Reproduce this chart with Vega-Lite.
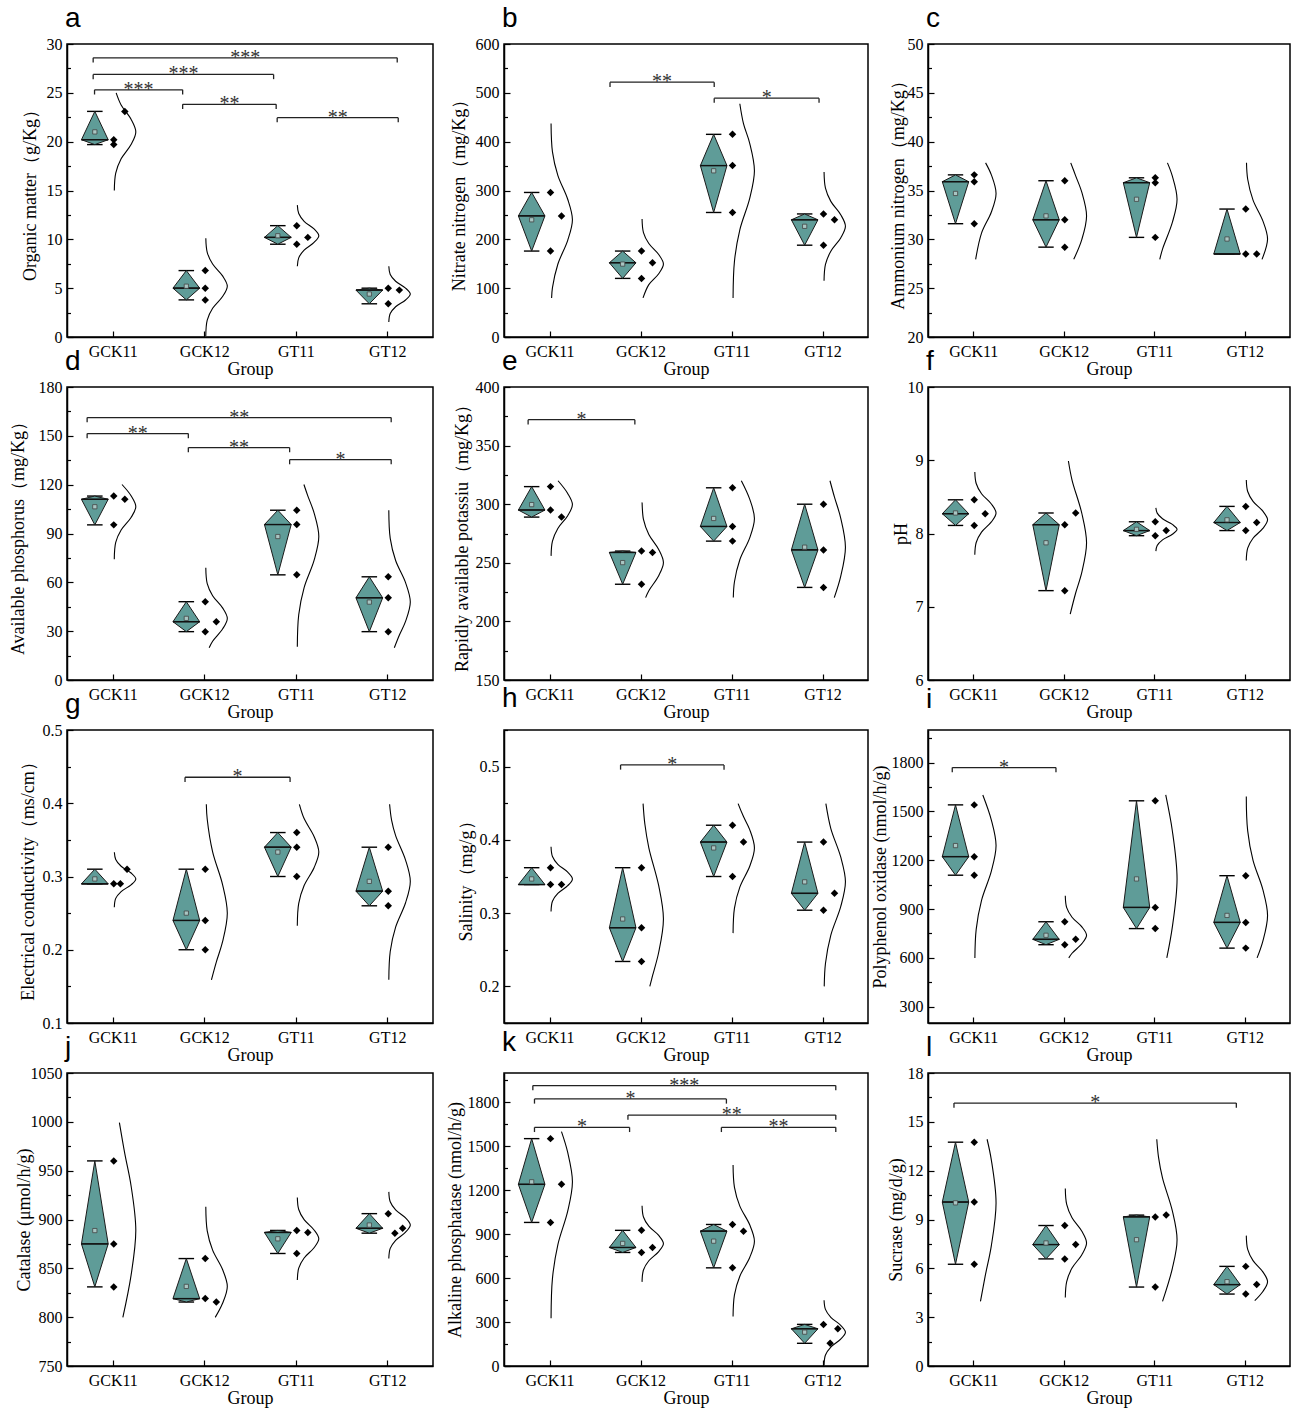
{
  "$schema": "https://vega.github.io/schema/vega-lite/v6.json",
  "background": "white",
  "padding": {"left": 8, "top": 4, "right": 0, "bottom": 0},
  "config": {
    "view": {"stroke": "black", "strokeWidth": 1.5},
    "font": "Liberation Serif",
    "axis": {"grid": false, "domainColor": "black", "domainWidth": 1.5, "tickColor": "black", "tickWidth": 1.2, "labelFont": "Liberation Serif", "labelFontSize": 16, "labelColor": "black", "titleFont": "Liberation Serif", "titleFontSize": 18, "titleFontWeight": "normal", "titleColor": "black"},
    "axisY": {"labelPadding": 11, "titleBaseline": "middle"},
    "title": {"font": "Liberation Sans", "fontSize": 28, "fontWeight": "normal", "anchor": "start", "align": "right", "frame": "group", "baseline": "alphabetic", "offset": 3, "color": "black", "dx": -2}
  },
  "datasets": {
    "pts": [
      {"p":"a","g":1,"y":23.1,"j":1},{"p":"a","g":1,"y":20.2,"j":0},{"p":"a","g":1,"y":19.7,"j":0},
      {"p":"a","g":2,"y":6.8,"j":0},{"p":"a","g":2,"y":5.0,"j":0},{"p":"a","g":2,"y":3.8,"j":0},
      {"p":"a","g":3,"y":11.4,"j":0},{"p":"a","g":3,"y":10.2,"j":1},{"p":"a","g":3,"y":9.5,"j":0},
      {"p":"a","g":4,"y":5.0,"j":0},{"p":"a","g":4,"y":4.8,"j":1},{"p":"a","g":4,"y":3.4,"j":0},
      {"p":"b","g":1,"y":296,"j":0},{"p":"b","g":1,"y":248,"j":1},{"p":"b","g":1,"y":176,"j":0},
      {"p":"b","g":2,"y":176,"j":0},{"p":"b","g":2,"y":152,"j":1},{"p":"b","g":2,"y":120,"j":0},
      {"p":"b","g":3,"y":415,"j":0},{"p":"b","g":3,"y":351,"j":0},{"p":"b","g":3,"y":255,"j":0},
      {"p":"b","g":4,"y":252,"j":0},{"p":"b","g":4,"y":240,"j":1},{"p":"b","g":4,"y":188,"j":0},
      {"p":"c","g":1,"y":36.6,"j":0},{"p":"c","g":1,"y":35.9,"j":0},{"p":"c","g":1,"y":31.6,"j":0},
      {"p":"c","g":2,"y":36.0,"j":0},{"p":"c","g":2,"y":32.0,"j":0},{"p":"c","g":2,"y":29.2,"j":0},
      {"p":"c","g":3,"y":36.3,"j":0},{"p":"c","g":3,"y":35.8,"j":0},{"p":"c","g":3,"y":30.2,"j":0},
      {"p":"c","g":4,"y":33.1,"j":0},{"p":"c","g":4,"y":28.5,"j":0},{"p":"c","g":4,"y":28.5,"j":1},
      {"p":"d","g":1,"y":113,"j":0},{"p":"d","g":1,"y":111,"j":1},{"p":"d","g":1,"y":95.3,"j":0},
      {"p":"d","g":2,"y":48.1,"j":0},{"p":"d","g":2,"y":35.8,"j":1},{"p":"d","g":2,"y":29.7,"j":0},
      {"p":"d","g":3,"y":104.3,"j":0},{"p":"d","g":3,"y":95.5,"j":0},{"p":"d","g":3,"y":64.6,"j":0},
      {"p":"d","g":4,"y":63.4,"j":0},{"p":"d","g":4,"y":50.5,"j":0},{"p":"d","g":4,"y":29.7,"j":0},
      {"p":"e","g":1,"y":315,"j":0},{"p":"e","g":1,"y":295,"j":0},{"p":"e","g":1,"y":289,"j":1},
      {"p":"e","g":2,"y":260,"j":0},{"p":"e","g":2,"y":258.8,"j":1},{"p":"e","g":2,"y":231.7,"j":0},
      {"p":"e","g":3,"y":314,"j":0},{"p":"e","g":3,"y":281,"j":0},{"p":"e","g":3,"y":268.5,"j":0},
      {"p":"e","g":4,"y":300,"j":0},{"p":"e","g":4,"y":261,"j":0},{"p":"e","g":4,"y":229,"j":0},
      {"p":"f","g":1,"y":8.46,"j":0},{"p":"f","g":1,"y":8.27,"j":1},{"p":"f","g":1,"y":8.11,"j":0},
      {"p":"f","g":2,"y":8.28,"j":1},{"p":"f","g":2,"y":8.12,"j":0},{"p":"f","g":2,"y":7.22,"j":0},
      {"p":"f","g":3,"y":8.16,"j":0},{"p":"f","g":3,"y":8.04,"j":1},{"p":"f","g":3,"y":7.97,"j":0},
      {"p":"f","g":4,"y":8.37,"j":0},{"p":"f","g":4,"y":8.15,"j":1},{"p":"f","g":4,"y":8.04,"j":0},
      {"p":"g","g":1,"y":0.31,"j":1.2},{"p":"g","g":1,"y":0.29,"j":0},{"p":"g","g":1,"y":0.29,"j":0.6},
      {"p":"g","g":2,"y":0.31,"j":0},{"p":"g","g":2,"y":0.24,"j":0},{"p":"g","g":2,"y":0.20,"j":0},
      {"p":"g","g":3,"y":0.36,"j":0},{"p":"g","g":3,"y":0.34,"j":0},{"p":"g","g":3,"y":0.30,"j":0},
      {"p":"g","g":4,"y":0.34,"j":0},{"p":"g","g":4,"y":0.28,"j":0},{"p":"g","g":4,"y":0.26,"j":0},
      {"p":"h","g":1,"y":0.362,"j":0},{"p":"h","g":1,"y":0.339,"j":0},{"p":"h","g":1,"y":0.339,"j":1},
      {"p":"h","g":2,"y":0.362,"j":0},{"p":"h","g":2,"y":0.28,"j":0},{"p":"h","g":2,"y":0.234,"j":0},
      {"p":"h","g":3,"y":0.42,"j":0},{"p":"h","g":3,"y":0.397,"j":1},{"p":"h","g":3,"y":0.35,"j":0},
      {"p":"h","g":4,"y":0.397,"j":0},{"p":"h","g":4,"y":0.327,"j":1},{"p":"h","g":4,"y":0.304,"j":0},
      {"p":"i","g":1,"y":1540,"j":0},{"p":"i","g":1,"y":1222,"j":0},{"p":"i","g":1,"y":1108,"j":0},
      {"p":"i","g":2,"y":822,"j":0},{"p":"i","g":2,"y":714,"j":1},{"p":"i","g":2,"y":681,"j":0},
      {"p":"i","g":3,"y":1565,"j":0},{"p":"i","g":3,"y":910,"j":0},{"p":"i","g":3,"y":780,"j":0},
      {"p":"i","g":4,"y":1105,"j":0},{"p":"i","g":4,"y":818,"j":0},{"p":"i","g":4,"y":660,"j":0},
      {"p":"j","g":1,"y":960,"j":0},{"p":"j","g":1,"y":875,"j":0},{"p":"j","g":1,"y":831,"j":0},
      {"p":"j","g":2,"y":860,"j":0},{"p":"j","g":2,"y":819,"j":0},{"p":"j","g":2,"y":815.5,"j":1},
      {"p":"j","g":3,"y":888.8,"j":0},{"p":"j","g":3,"y":886.7,"j":1},{"p":"j","g":3,"y":865.2,"j":0},
      {"p":"j","g":4,"y":906,"j":0},{"p":"j","g":4,"y":891,"j":1.3},{"p":"j","g":4,"y":886,"j":0.6},
      {"p":"k","g":1,"y":1552,"j":0},{"p":"k","g":1,"y":1240,"j":1},{"p":"k","g":1,"y":980,"j":0},
      {"p":"k","g":2,"y":926,"j":0},{"p":"k","g":2,"y":809,"j":1},{"p":"k","g":2,"y":775,"j":0},
      {"p":"k","g":3,"y":966,"j":0},{"p":"k","g":3,"y":920.5,"j":1},{"p":"k","g":3,"y":670,"j":0},
      {"p":"k","g":4,"y":284,"j":0},{"p":"k","g":4,"y":254,"j":1.3},{"p":"k","g":4,"y":155,"j":0.6},
      {"p":"l","g":1,"y":13.75,"j":0},{"p":"l","g":1,"y":10.07,"j":0},{"p":"l","g":1,"y":6.25,"j":0},
      {"p":"l","g":2,"y":8.63,"j":0},{"p":"l","g":2,"y":7.46,"j":1},{"p":"l","g":2,"y":6.58,"j":0},
      {"p":"l","g":3,"y":9.16,"j":0},{"p":"l","g":3,"y":9.27,"j":1},{"p":"l","g":3,"y":4.85,"j":0},
      {"p":"l","g":4,"y":6.12,"j":0},{"p":"l","g":4,"y":5.0,"j":1},{"p":"l","g":4,"y":4.42,"j":0}
    ],
    "curve": [
      {"p":"a","g":1,"y":15,"d":0.005},{"p":"a","g":1,"y":16.77,"d":0.07},{"p":"a","g":1,"y":18.24,"d":0.32},{"p":"a","g":1,"y":19.71,"d":0.78},{"p":"a","g":1,"y":21.0,"d":1},{"p":"a","g":1,"y":22.29,"d":0.78},{"p":"a","g":1,"y":23.76,"d":0.32},{"p":"a","g":1,"y":25,"d":0.09},
      {"p":"a","g":2,"y":0.1,"d":0.003},{"p":"a","g":2,"y":1.73,"d":0.07},{"p":"a","g":2,"y":2.94,"d":0.32},{"p":"a","g":2,"y":4.14,"d":0.78},{"p":"a","g":2,"y":5.2,"d":1},{"p":"a","g":2,"y":6.26,"d":0.78},{"p":"a","g":2,"y":7.47,"d":0.32},{"p":"a","g":2,"y":8.67,"d":0.07},{"p":"a","g":2,"y":10.1,"d":0.005},
      {"p":"a","g":3,"y":7.24,"d":0.006},{"p":"a","g":3,"y":8.1,"d":0.07},{"p":"a","g":3,"y":8.89,"d":0.32},{"p":"a","g":3,"y":9.68,"d":0.78},{"p":"a","g":3,"y":10.37,"d":1},{"p":"a","g":3,"y":11.06,"d":0.78},{"p":"a","g":3,"y":11.85,"d":0.32},{"p":"a","g":3,"y":12.64,"d":0.07},{"p":"a","g":3,"y":13.5,"d":0.006},
      {"p":"a","g":4,"y":1.53,"d":0.004},{"p":"a","g":4,"y":2.4,"d":0.07},{"p":"a","g":4,"y":3.1,"d":0.32},{"p":"a","g":4,"y":3.79,"d":0.78},{"p":"a","g":4,"y":4.4,"d":1},{"p":"a","g":4,"y":5.01,"d":0.78},{"p":"a","g":4,"y":5.71,"d":0.32},{"p":"a","g":4,"y":6.4,"d":0.07},{"p":"a","g":4,"y":7.24,"d":0.005},
      {"p":"b","g":1,"y":80,"d":0.03},{"p":"b","g":1,"y":101,"d":0.07},{"p":"b","g":1,"y":149,"d":0.32},{"p":"b","g":1,"y":198,"d":0.78},{"p":"b","g":1,"y":240,"d":1},{"p":"b","g":1,"y":282,"d":0.78},{"p":"b","g":1,"y":331,"d":0.32},{"p":"b","g":1,"y":379,"d":0.07},{"p":"b","g":1,"y":437,"d":0.005},
      {"p":"b","g":2,"y":80,"d":0.05},{"p":"b","g":2,"y":107.2,"d":0.32},{"p":"b","g":2,"y":129.6,"d":0.78},{"p":"b","g":2,"y":149.3,"d":1},{"p":"b","g":2,"y":169,"d":0.78},{"p":"b","g":2,"y":191.5,"d":0.32},{"p":"b","g":2,"y":213.9,"d":0.07},{"p":"b","g":2,"y":241.5,"d":0.005},
      {"p":"b","g":3,"y":80,"d":0.005},{"p":"b","g":3,"y":155.2,"d":0.07},{"p":"b","g":3,"y":219.6,"d":0.32},{"p":"b","g":3,"y":284,"d":0.78},{"p":"b","g":3,"y":340.3,"d":1},{"p":"b","g":3,"y":396.7,"d":0.78},{"p":"b","g":3,"y":436.9,"d":0.49},{"p":"b","g":3,"y":477.6,"d":0.32},
      {"p":"b","g":4,"y":115,"d":0.004},{"p":"b","g":4,"y":148.5,"d":0.07},{"p":"b","g":4,"y":175.7,"d":0.32},{"p":"b","g":4,"y":202.9,"d":0.78},{"p":"b","g":4,"y":226.7,"d":1},{"p":"b","g":4,"y":250.5,"d":0.78},{"p":"b","g":4,"y":277.7,"d":0.32},{"p":"b","g":4,"y":304.9,"d":0.07},{"p":"b","g":4,"y":338,"d":0.005},
      {"p":"c","g":1,"y":27.95,"d":0.045},{"p":"c","g":1,"y":30.64,"d":0.32},{"p":"c","g":1,"y":32.8,"d":0.78},{"p":"c","g":1,"y":34.7,"d":1},{"p":"c","g":1,"y":36.6,"d":0.78},{"p":"c","g":1,"y":37.83,"d":0.51},
      {"p":"c","g":2,"y":27.95,"d":0.4},{"p":"c","g":2,"y":30.0,"d":0.78},{"p":"c","g":2,"y":32.4,"d":1},{"p":"c","g":2,"y":34.8,"d":0.78},{"p":"c","g":2,"y":36.5,"d":0.49},{"p":"c","g":2,"y":37.83,"d":0.26},
      {"p":"c","g":3,"y":27.95,"d":0.19},{"p":"c","g":3,"y":29.0,"d":0.32},{"p":"c","g":3,"y":31.73,"d":0.78},{"p":"c","g":3,"y":34.1,"d":1},{"p":"c","g":3,"y":36.47,"d":0.78},{"p":"c","g":3,"y":37.83,"d":0.55},
      {"p":"c","g":4,"y":27.95,"d":0.74},{"p":"c","g":4,"y":30.03,"d":1},{"p":"c","g":4,"y":31.89,"d":0.78},{"p":"c","g":4,"y":34.02,"d":0.32},{"p":"c","g":4,"y":36.15,"d":0.07},{"p":"c","g":4,"y":37.83,"d":0.014},
      {"p":"d","g":1,"y":74.2,"d":0.003},{"p":"d","g":1,"y":84.5,"d":0.07},{"p":"d","g":1,"y":92.1,"d":0.32},{"p":"d","g":1,"y":99.8,"d":0.78},{"p":"d","g":1,"y":106.5,"d":1},{"p":"d","g":1,"y":113.2,"d":0.78},{"p":"d","g":1,"y":120.1,"d":0.36},
      {"p":"d","g":2,"y":19.8,"d":0.16},{"p":"d","g":2,"y":23.8,"d":0.32},{"p":"d","g":2,"y":31.3,"d":0.78},{"p":"d","g":2,"y":37.8,"d":1},{"p":"d","g":2,"y":44.3,"d":0.78},{"p":"d","g":2,"y":51.8,"d":0.32},{"p":"d","g":2,"y":59.2,"d":0.07},{"p":"d","g":2,"y":68.9,"d":0.004},
      {"p":"d","g":3,"y":20.5,"d":0.005},{"p":"d","g":3,"y":40.1,"d":0.07},{"p":"d","g":3,"y":56.8,"d":0.32},{"p":"d","g":3,"y":73.5,"d":0.78},{"p":"d","g":3,"y":88.1,"d":1},{"p":"d","g":3,"y":102.7,"d":0.78},{"p":"d","g":3,"y":113.1,"d":0.49},{"p":"d","g":3,"y":120.1,"d":0.31},
      {"p":"d","g":4,"y":19.8,"d":0.26},{"p":"d","g":4,"y":27.5,"d":0.49},{"p":"d","g":4,"y":36.0,"d":0.78},{"p":"d","g":4,"y":47.9,"d":1},{"p":"d","g":4,"y":59.8,"d":0.78},{"p":"d","g":4,"y":73.4,"d":0.32},{"p":"d","g":4,"y":87.0,"d":0.07},{"p":"d","g":4,"y":104.3,"d":0.004},
      {"p":"e","g":1,"y":255.9,"d":0.006},{"p":"e","g":1,"y":268.4,"d":0.07},{"p":"e","g":1,"y":279.3,"d":0.32},{"p":"e","g":1,"y":290.2,"d":0.78},{"p":"e","g":1,"y":299.7,"d":1},{"p":"e","g":1,"y":309.2,"d":0.78},{"p":"e","g":1,"y":320,"d":0.33},
      {"p":"e","g":2,"y":220.3,"d":0.17},{"p":"e","g":2,"y":226.2,"d":0.32},{"p":"e","g":2,"y":239,"d":0.78},{"p":"e","g":2,"y":250.2,"d":1},{"p":"e","g":2,"y":261.4,"d":0.78},{"p":"e","g":2,"y":274.2,"d":0.32},{"p":"e","g":2,"y":287,"d":0.07},{"p":"e","g":2,"y":301.5,"d":0.006},
      {"p":"e","g":3,"y":220.3,"d":0.016},{"p":"e","g":3,"y":233.8,"d":0.07},{"p":"e","g":3,"y":252.6,"d":0.32},{"p":"e","g":3,"y":271.3,"d":0.78},{"p":"e","g":3,"y":287.8,"d":1},{"p":"e","g":3,"y":304.3,"d":0.78},{"p":"e","g":3,"y":320,"d":0.39},
      {"p":"e","g":4,"y":220.3,"d":0.48},{"p":"e","g":4,"y":238.4,"d":0.78},{"p":"e","g":4,"y":263.3,"d":1},{"p":"e","g":4,"y":288.2,"d":0.78},{"p":"e","g":4,"y":306,"d":0.49},{"p":"e","g":4,"y":320,"d":0.28},
      {"p":"f","g":1,"y":7.71,"d":0.005},{"p":"f","g":1,"y":7.877,"d":0.07},{"p":"f","g":1,"y":8.018,"d":0.32},{"p":"f","g":1,"y":8.158,"d":0.78},{"p":"f","g":1,"y":8.28,"d":1},{"p":"f","g":1,"y":8.403,"d":0.78},{"p":"f","g":1,"y":8.543,"d":0.32},{"p":"f","g":1,"y":8.683,"d":0.07},{"p":"f","g":1,"y":8.84,"d":0.006},
      {"p":"f","g":2,"y":6.9,"d":0.235},{"p":"f","g":2,"y":7.188,"d":0.49},{"p":"f","g":2,"y":7.473,"d":0.78},{"p":"f","g":2,"y":7.873,"d":1},{"p":"f","g":2,"y":8.273,"d":0.78},{"p":"f","g":2,"y":8.73,"d":0.32},{"p":"f","g":2,"y":8.99,"d":0.15},
      {"p":"f","g":3,"y":7.76,"d":0.008},{"p":"f","g":3,"y":7.836,"d":0.07},{"p":"f","g":3,"y":7.913,"d":0.32},{"p":"f","g":3,"y":7.99,"d":0.78},{"p":"f","g":3,"y":8.057,"d":1},{"p":"f","g":3,"y":8.124,"d":0.78},{"p":"f","g":3,"y":8.201,"d":0.32},{"p":"f","g":3,"y":8.278,"d":0.07},{"p":"f","g":3,"y":8.35,"d":0.009},
      {"p":"f","g":4,"y":7.63,"d":0.004},{"p":"f","g":4,"y":7.801,"d":0.07},{"p":"f","g":4,"y":7.935,"d":0.32},{"p":"f","g":4,"y":8.069,"d":0.78},{"p":"f","g":4,"y":8.187,"d":1},{"p":"f","g":4,"y":8.305,"d":0.78},{"p":"f","g":4,"y":8.439,"d":0.32},{"p":"f","g":4,"y":8.573,"d":0.07},{"p":"f","g":4,"y":8.73,"d":0.005},
      {"p":"g","g":1,"y":0.258,"d":0.004},{"p":"g","g":1,"y":0.2701,"d":0.07},{"p":"g","g":1,"y":0.2794,"d":0.32},{"p":"g","g":1,"y":0.2886,"d":0.78},{"p":"g","g":1,"y":0.2967,"d":1},{"p":"g","g":1,"y":0.3048,"d":0.78},{"p":"g","g":1,"y":0.314,"d":0.32},{"p":"g","g":1,"y":0.3233,"d":0.07},{"p":"g","g":1,"y":0.333,"d":0.007},
      {"p":"g","g":2,"y":0.159,"d":0.265},{"p":"g","g":2,"y":0.1832,"d":0.49},{"p":"g","g":2,"y":0.211,"d":0.78},{"p":"g","g":2,"y":0.25,"d":1},{"p":"g","g":2,"y":0.289,"d":0.78},{"p":"g","g":2,"y":0.3336,"d":0.32},{"p":"g","g":2,"y":0.3781,"d":0.07},{"p":"g","g":2,"y":0.3986,"d":0.028},
      {"p":"g","g":3,"y":0.2327,"d":0.004},{"p":"g","g":3,"y":0.2632,"d":0.07},{"p":"g","g":3,"y":0.2876,"d":0.32},{"p":"g","g":3,"y":0.312,"d":0.78},{"p":"g","g":3,"y":0.3333,"d":1},{"p":"g","g":3,"y":0.3547,"d":0.78},{"p":"g","g":3,"y":0.3791,"d":0.32},{"p":"g","g":3,"y":0.3986,"d":0.1},
      {"p":"g","g":4,"y":0.159,"d":0.005},{"p":"g","g":4,"y":0.1976,"d":0.07},{"p":"g","g":4,"y":0.2309,"d":0.32},{"p":"g","g":4,"y":0.2642,"d":0.78},{"p":"g","g":4,"y":0.2933,"d":1},{"p":"g","g":4,"y":0.3224,"d":0.78},{"p":"g","g":4,"y":0.3557,"d":0.32},{"p":"g","g":4,"y":0.3765,"d":0.135},{"p":"g","g":4,"y":0.3986,"d":0.041},
      {"p":"h","g":1,"y":0.3023,"d":0.004},{"p":"h","g":1,"y":0.3162,"d":0.07},{"p":"h","g":1,"y":0.3268,"d":0.32},{"p":"h","g":1,"y":0.3374,"d":0.78},{"p":"h","g":1,"y":0.3467,"d":1},{"p":"h","g":1,"y":0.356,"d":0.78},{"p":"h","g":1,"y":0.3666,"d":0.32},{"p":"h","g":1,"y":0.3772,"d":0.07},{"p":"h","g":1,"y":0.3905,"d":0.004},
      {"p":"h","g":2,"y":0.2,"d":0.365},{"p":"h","g":2,"y":0.2142,"d":0.49},{"p":"h","g":2,"y":0.2466,"d":0.78},{"p":"h","g":2,"y":0.292,"d":1},{"p":"h","g":2,"y":0.3374,"d":0.78},{"p":"h","g":2,"y":0.3892,"d":0.32},{"p":"h","g":2,"y":0.4216,"d":0.135},{"p":"h","g":2,"y":0.4495,"d":0.052},
      {"p":"h","g":3,"y":0.2727,"d":0.005},{"p":"h","g":3,"y":0.3069,"d":0.07},{"p":"h","g":3,"y":0.3355,"d":0.32},{"p":"h","g":3,"y":0.364,"d":0.78},{"p":"h","g":3,"y":0.389,"d":1},{"p":"h","g":3,"y":0.414,"d":0.78},{"p":"h","g":3,"y":0.4318,"d":0.49},{"p":"h","g":3,"y":0.4495,"d":0.24},
      {"p":"h","g":4,"y":0.2,"d":0.013},{"p":"h","g":4,"y":0.2312,"d":0.07},{"p":"h","g":4,"y":0.27,"d":0.32},{"p":"h","g":4,"y":0.3088,"d":0.78},{"p":"h","g":4,"y":0.3427,"d":1},{"p":"h","g":4,"y":0.3767,"d":0.78},{"p":"h","g":4,"y":0.4155,"d":0.32},{"p":"h","g":4,"y":0.4495,"d":0.089},
      {"p":"i","g":1,"y":600,"d":0.009},{"p":"i","g":1,"y":775,"d":0.07},{"p":"i","g":1,"y":954,"d":0.32},{"p":"i","g":1,"y":1133,"d":0.78},{"p":"i","g":1,"y":1290,"d":1},{"p":"i","g":1,"y":1447,"d":0.78},{"p":"i","g":1,"y":1601,"d":0.38},
      {"p":"i","g":2,"y":600,"d":0.168},{"p":"i","g":2,"y":628.5,"d":0.32},{"p":"i","g":2,"y":687.4,"d":0.78},{"p":"i","g":2,"y":739,"d":1},{"p":"i","g":2,"y":790.6,"d":0.78},{"p":"i","g":2,"y":849.6,"d":0.32},{"p":"i","g":2,"y":908.5,"d":0.07},{"p":"i","g":2,"y":982,"d":0.004},
      {"p":"i","g":3,"y":600,"d":0.52},{"p":"i","g":3,"y":790.5,"d":0.78},{"p":"i","g":3,"y":1085,"d":1},{"p":"i","g":3,"y":1379.5,"d":0.78},{"p":"i","g":3,"y":1601,"d":0.47},
      {"p":"i","g":4,"y":600,"d":0.51},{"p":"i","g":4,"y":703,"d":0.78},{"p":"i","g":4,"y":861,"d":1},{"p":"i","g":4,"y":1019,"d":0.78},{"p":"i","g":4,"y":1199,"d":0.32},{"p":"i","g":4,"y":1380,"d":0.07},{"p":"i","g":4,"y":1591,"d":0.005},
      {"p":"j","g":1,"y":799.8,"d":0.4},{"p":"j","g":1,"y":842.8,"d":0.78},{"p":"j","g":1,"y":888.7,"d":1},{"p":"j","g":1,"y":934.6,"d":0.78},{"p":"j","g":1,"y":967.4,"d":0.49},{"p":"j","g":1,"y":999.2,"d":0.24},
      {"p":"j","g":2,"y":799.8,"d":0.44},{"p":"j","g":2,"y":814.2,"d":0.78},{"p":"j","g":2,"y":831.5,"d":1},{"p":"j","g":2,"y":848.8,"d":0.78},{"p":"j","g":2,"y":868.6,"d":0.32},{"p":"j","g":2,"y":888.3,"d":0.07},{"p":"j","g":2,"y":913,"d":0.004},
      {"p":"j","g":3,"y":838,"d":0.005},{"p":"j","g":3,"y":850.2,"d":0.07},{"p":"j","g":3,"y":860.6,"d":0.32},{"p":"j","g":3,"y":871.1,"d":0.78},{"p":"j","g":3,"y":880.2,"d":1},{"p":"j","g":3,"y":889.3,"d":0.78},{"p":"j","g":3,"y":899.8,"d":0.32},{"p":"j","g":3,"y":910.2,"d":0.07},{"p":"j","g":3,"y":922.5,"d":0.005},
      {"p":"j","g":4,"y":860.1,"d":0.004},{"p":"j","g":4,"y":870.4,"d":0.07},{"p":"j","g":4,"y":878.7,"d":0.32},{"p":"j","g":4,"y":887,"d":0.78},{"p":"j","g":4,"y":894.3,"d":1},{"p":"j","g":4,"y":901.6,"d":0.78},{"p":"j","g":4,"y":909.9,"d":0.32},{"p":"j","g":4,"y":918.2,"d":0.07},{"p":"j","g":4,"y":928.3,"d":0.005},
      {"p":"k","g":1,"y":325.8,"d":0.005},{"p":"k","g":1,"y":598.3,"d":0.07},{"p":"k","g":1,"y":827.4,"d":0.32},{"p":"k","g":1,"y":1056.5,"d":0.78},{"p":"k","g":1,"y":1257,"d":1},{"p":"k","g":1,"y":1457.5,"d":0.78},{"p":"k","g":1,"y":1599.5,"d":0.49},
      {"p":"k","g":2,"y":574.2,"d":0.004},{"p":"k","g":2,"y":655.5,"d":0.07},{"p":"k","g":2,"y":718.4,"d":0.32},{"p":"k","g":2,"y":781.3,"d":0.78},{"p":"k","g":2,"y":836.3,"d":1},{"p":"k","g":2,"y":891.3,"d":0.78},{"p":"k","g":2,"y":954.2,"d":0.32},{"p":"k","g":2,"y":1017.1,"d":0.07},{"p":"k","g":2,"y":1093.6,"d":0.005},
      {"p":"k","g":3,"y":337.2,"d":0.005},{"p":"k","g":3,"y":485.6,"d":0.07},{"p":"k","g":3,"y":613.1,"d":0.32},{"p":"k","g":3,"y":740.6,"d":0.78},{"p":"k","g":3,"y":852.2,"d":1},{"p":"k","g":3,"y":963.8,"d":0.78},{"p":"k","g":3,"y":1091.3,"d":0.32},{"p":"k","g":3,"y":1218.8,"d":0.07},{"p":"k","g":3,"y":1371.6,"d":0.005},
      {"p":"k","g":4,"y":4.6,"d":0.004},{"p":"k","g":4,"y":75.2,"d":0.07},{"p":"k","g":4,"y":129.3,"d":0.32},{"p":"k","g":4,"y":183.4,"d":0.78},{"p":"k","g":4,"y":230.7,"d":1},{"p":"k","g":4,"y":278,"d":0.78},{"p":"k","g":4,"y":332.1,"d":0.32},{"p":"k","g":4,"y":386.2,"d":0.07},{"p":"k","g":4,"y":448.8,"d":0.005},
      {"p":"l","g":1,"y":3.97,"d":0.27},{"p":"l","g":1,"y":5.52,"d":0.49},{"p":"l","g":1,"y":7.4,"d":0.78},{"p":"l","g":1,"y":10.02,"d":1},{"p":"l","g":1,"y":12.65,"d":0.78},{"p":"l","g":1,"y":13.93,"d":0.58},
      {"p":"l","g":2,"y":4.21,"d":0.005},{"p":"l","g":2,"y":5.19,"d":0.07},{"p":"l","g":2,"y":6.015,"d":0.32},{"p":"l","g":2,"y":6.84,"d":0.78},{"p":"l","g":2,"y":7.56,"d":1},{"p":"l","g":2,"y":8.28,"d":0.78},{"p":"l","g":2,"y":9.105,"d":0.32},{"p":"l","g":2,"y":9.93,"d":0.07},{"p":"l","g":2,"y":10.91,"d":0.005},
      {"p":"l","g":3,"y":3.97,"d":0.32},{"p":"l","g":3,"y":5.996,"d":0.78},{"p":"l","g":3,"y":7.76,"d":1},{"p":"l","g":3,"y":9.524,"d":0.78},{"p":"l","g":3,"y":11.54,"d":0.32},{"p":"l","g":3,"y":12.8,"d":0.135},{"p":"l","g":3,"y":13.93,"d":0.05},
      {"p":"l","g":4,"y":4.01,"d":0.4},{"p":"l","g":4,"y":4.575,"d":0.78},{"p":"l","g":4,"y":5.18,"d":1},{"p":"l","g":4,"y":5.785,"d":0.78},{"p":"l","g":4,"y":6.476,"d":0.32},{"p":"l","g":4,"y":7.167,"d":0.07},{"p":"l","g":4,"y":8.01,"d":0.005}
    ],
    "sig": [
      {"p":"a","x":0.786,"x2":4.109,"y":28.58,"lab":"***"},
      {"p":"a","x":0.786,"x2":2.758,"y":26.88,"lab":"***"},
      {"p":"a","x":0.801,"x2":1.764,"y":25.31,"lab":"***"},
      {"p":"a","x":1.764,"x2":2.786,"y":23.82,"lab":"**"},
      {"p":"a","x":2.797,"x2":4.12,"y":22.46,"lab":"**"},
      {"p":"b","x":1.665,"x2":2.81,"y":521.8,"lab":"**"},
      {"p":"b","x":2.81,"x2":3.962,"y":489.1,"lab":"*"},
      {"p":"d","x":0.72,"x2":4.043,"y":161.2,"lab":"**"},
      {"p":"d","x":0.72,"x2":1.826,"y":151.4,"lab":"**"},
      {"p":"d","x":1.826,"x2":2.933,"y":142.8,"lab":"**"},
      {"p":"d","x":2.933,"x2":4.043,"y":135.4,"lab":"*"},
      {"p":"e","x":0.765,"x2":1.938,"y":372.1,"lab":"*"},
      {"p":"g","x":1.79,"x2":2.938,"y":0.4355,"lab":"*"},
      {"p":"h","x":1.781,"x2":2.918,"y":0.5023,"lab":"*"},
      {"p":"i","x":0.768,"x2":1.914,"y":1769,"lab":"*"},
      {"p":"k","x":0.817,"x2":4.146,"y":1914,"lab":"***"},
      {"p":"k","x":0.835,"x2":2.944,"y":1823,"lab":"*"},
      {"p":"k","x":1.862,"x2":4.146,"y":1713,"lab":"**"},
      {"p":"k","x":0.835,"x2":1.88,"y":1629,"lab":"*"},
      {"p":"k","x":2.889,"x2":4.146,"y":1629,"lab":"**"},
      {"p":"l","x":0.787,"x2":3.907,"y":16.15,"lab":"*"}
    ]
  },
  "spacing": 11,
  "hconcat": [
    {
      "bounds": "flush",
      "spacing": 50,
      "vconcat": [
        {
          "width": 366, "height": 293,
          "title": {"text": "a"},
          "encoding": {
            "x": {"field": "x", "type": "quantitative", "scale": {"domain": [0.5, 4.5], "nice": false, "zero": false}, "axis": {"title": "Group", "values": [1, 2, 3, 4], "labelExpr": "['GCK11','GCK12','GT11','GT12'][datum.value-1]", "tickSize": -6, "labelPadding": 12, "titleY": 32, "titleBaseline": "middle"}},
            "y": {"field": "y", "type": "quantitative", "scale": {"domain": [0, 30], "nice": false, "zero": false}, "axis": {"title": "Organic matter（g/Kg）", "values": [0, 2.5, 5, 7.5, 10, 12.5, 15, 17.5, 20, 22.5, 25, 27.5, 30], "format": "d", "labelExpr": "abs(datum.value/5-round(datum.value/5))<0.001 ? datum.label : ''", "tickSize": {"condition": {"test": "abs(datum.value/5-round(datum.value/5))<0.001", "value": -6}, "value": -3.5}, "titleX": -37}}
          },
          "layer": [
            {"data": {"name": "curve"}, "transform": [{"filter": "datum.p==='a'"}, {"calculate": "datum.g+0.016+0.236*datum.d", "as": "x"}], "mark": {"type": "line", "color": "black", "strokeWidth": 1.1, "interpolate": "catmull-rom"}, "encoding": {"detail": {"field": "g", "type": "nominal"}, "order": {"field": "y", "type": "quantitative"}}},
            {"data": {"name": "pts"}, "transform": [{"filter": "datum.p==='a'"}, {"aggregate": [{"op": "min", "field": "y", "as": "lo"}, {"op": "max", "field": "y", "as": "hi"}], "groupby": ["g"]}, {"fold": ["lo", "hi"], "as": ["k", "y"]}, {"calculate": "datum.g-0.281", "as": "x"}, {"calculate": "datum.g-0.111", "as": "x2"}], "mark": {"type": "rule", "color": "black", "strokeWidth": 1.4}, "encoding": {"x2": {"field": "x2"}}},
            {"data": {"name": "pts"}, "transform": [{"filter": "datum.p==='a'"}, {"aggregate": [{"op": "median", "field": "y", "as": "md"}, {"op": "max", "field": "y", "as": "mx"}], "groupby": ["g"]}, {"fold": ["md", "mx"], "as": ["k", "y"]}, {"calculate": "datum.k==='md'?0.146:0", "as": "w"}, {"calculate": "datum.g-0.196-datum.w", "as": "x"}, {"calculate": "datum.g-0.196+datum.w", "as": "x2"}], "mark": {"type": "area", "orient": "horizontal", "fill": "#5f9c98", "stroke": "#1a1a1a", "strokeWidth": 1, "opacity": 1}, "encoding": {"x2": {"field": "x2"}, "detail": {"field": "g", "type": "nominal"}}},
            {"data": {"name": "pts"}, "transform": [{"filter": "datum.p==='a'"}, {"aggregate": [{"op": "min", "field": "y", "as": "mn"}, {"op": "median", "field": "y", "as": "md"}], "groupby": ["g"]}, {"fold": ["mn", "md"], "as": ["k", "y"]}, {"calculate": "datum.k==='md'?0.146:0", "as": "w"}, {"calculate": "datum.g-0.196-datum.w", "as": "x"}, {"calculate": "datum.g-0.196+datum.w", "as": "x2"}], "mark": {"type": "area", "orient": "horizontal", "fill": "#5f9c98", "stroke": "#1a1a1a", "strokeWidth": 1, "opacity": 1}, "encoding": {"x2": {"field": "x2"}, "detail": {"field": "g", "type": "nominal"}}},
            {"data": {"name": "pts"}, "transform": [{"filter": "datum.p==='a'"}, {"aggregate": [{"op": "median", "field": "y", "as": "med"}], "groupby": ["g"]}, {"fold": ["med"], "as": ["k", "y"]}, {"calculate": "datum.g-0.342", "as": "x"}, {"calculate": "datum.g-0.05", "as": "x2"}], "mark": {"type": "rule", "color": "#111", "strokeWidth": 1.4}, "encoding": {"x2": {"field": "x2"}}},
            {"data": {"name": "pts"}, "transform": [{"filter": "datum.p==='a'"}, {"aggregate": [{"op": "mean", "field": "y", "as": "mu"}], "groupby": ["g"]}, {"fold": ["mu"], "as": ["k", "y"]}, {"calculate": "datum.g-0.196", "as": "x"}], "mark": {"type": "point", "shape": "square", "size": 18, "filled": true, "fill": "#a9c6c3", "stroke": "#444", "strokeWidth": 0.8, "opacity": 1}},
            {"data": {"name": "pts"}, "transform": [{"filter": "datum.p==='a'"}, {"calculate": "datum.g+0.011+0.121*datum.j", "as": "x"}], "mark": {"type": "point", "shape": "diamond", "size": 56, "filled": true, "color": "black", "opacity": 1}},
            {"data": {"name": "sig"}, "transform": [{"filter": "datum.p==='a'"}], "mark": {"type": "rule", "color": "#222", "strokeWidth": 1.3}, "encoding": {"x2": {"field": "x2"}}},
            {"data": {"name": "sig"}, "transform": [{"filter": "datum.p==='a'"}, {"fold": ["x", "x2"], "as": ["k", "x"]}], "mark": {"type": "point", "shape": "M0,0V2", "size": 22, "filled": false, "stroke": "#222", "strokeWidth": 1.3, "opacity": 1}},
            {"data": {"name": "sig"}, "transform": [{"filter": "datum.p==='a'"}, {"calculate": "(datum.x+datum.x2)/2", "as": "xm"}, {"fold": ["xm"], "as": ["k", "x"]}], "mark": {"type": "text", "font": "Liberation Serif", "fontSize": 20, "fill": "#333", "baseline": "alphabetic", "dy": 6}, "encoding": {"text": {"field": "lab"}}}
          ]
        },
        {
          "width": 366, "height": 293,
          "title": {"text": "d"},
          "encoding": {
            "x": {"field": "x", "type": "quantitative", "scale": {"domain": [0.5, 4.5], "nice": false, "zero": false}, "axis": {"title": "Group", "values": [1, 2, 3, 4], "labelExpr": "['GCK11','GCK12','GT11','GT12'][datum.value-1]", "tickSize": -6, "labelPadding": 12, "titleY": 32, "titleBaseline": "middle"}},
            "y": {"field": "y", "type": "quantitative", "scale": {"domain": [0, 180], "nice": false, "zero": false}, "axis": {"title": "Available phosphorus（mg/Kg）", "values": [0, 15, 30, 45, 60, 75, 90, 105, 120, 135, 150, 165, 180], "format": "d", "labelExpr": "abs(datum.value/30-round(datum.value/30))<0.001 ? datum.label : ''", "tickSize": {"condition": {"test": "abs(datum.value/30-round(datum.value/30))<0.001", "value": -6}, "value": -3.5}, "titleX": -49}}
          },
          "layer": [
            {"data": {"name": "curve"}, "transform": [{"filter": "datum.p==='d'"}, {"calculate": "datum.g+0.016+0.236*datum.d", "as": "x"}], "mark": {"type": "line", "color": "black", "strokeWidth": 1.1, "interpolate": "catmull-rom"}, "encoding": {"detail": {"field": "g", "type": "nominal"}, "order": {"field": "y", "type": "quantitative"}}},
            {"data": {"name": "pts"}, "transform": [{"filter": "datum.p==='d'"}, {"aggregate": [{"op": "min", "field": "y", "as": "lo"}, {"op": "max", "field": "y", "as": "hi"}], "groupby": ["g"]}, {"fold": ["lo", "hi"], "as": ["k", "y"]}, {"calculate": "datum.g-0.281", "as": "x"}, {"calculate": "datum.g-0.111", "as": "x2"}], "mark": {"type": "rule", "color": "black", "strokeWidth": 1.4}, "encoding": {"x2": {"field": "x2"}}},
            {"data": {"name": "pts"}, "transform": [{"filter": "datum.p==='d'"}, {"aggregate": [{"op": "median", "field": "y", "as": "md"}, {"op": "max", "field": "y", "as": "mx"}], "groupby": ["g"]}, {"fold": ["md", "mx"], "as": ["k", "y"]}, {"calculate": "datum.k==='md'?0.146:0", "as": "w"}, {"calculate": "datum.g-0.196-datum.w", "as": "x"}, {"calculate": "datum.g-0.196+datum.w", "as": "x2"}], "mark": {"type": "area", "orient": "horizontal", "fill": "#5f9c98", "stroke": "#1a1a1a", "strokeWidth": 1, "opacity": 1}, "encoding": {"x2": {"field": "x2"}, "detail": {"field": "g", "type": "nominal"}}},
            {"data": {"name": "pts"}, "transform": [{"filter": "datum.p==='d'"}, {"aggregate": [{"op": "min", "field": "y", "as": "mn"}, {"op": "median", "field": "y", "as": "md"}], "groupby": ["g"]}, {"fold": ["mn", "md"], "as": ["k", "y"]}, {"calculate": "datum.k==='md'?0.146:0", "as": "w"}, {"calculate": "datum.g-0.196-datum.w", "as": "x"}, {"calculate": "datum.g-0.196+datum.w", "as": "x2"}], "mark": {"type": "area", "orient": "horizontal", "fill": "#5f9c98", "stroke": "#1a1a1a", "strokeWidth": 1, "opacity": 1}, "encoding": {"x2": {"field": "x2"}, "detail": {"field": "g", "type": "nominal"}}},
            {"data": {"name": "pts"}, "transform": [{"filter": "datum.p==='d'"}, {"aggregate": [{"op": "median", "field": "y", "as": "med"}], "groupby": ["g"]}, {"fold": ["med"], "as": ["k", "y"]}, {"calculate": "datum.g-0.342", "as": "x"}, {"calculate": "datum.g-0.05", "as": "x2"}], "mark": {"type": "rule", "color": "#111", "strokeWidth": 1.4}, "encoding": {"x2": {"field": "x2"}}},
            {"data": {"name": "pts"}, "transform": [{"filter": "datum.p==='d'"}, {"aggregate": [{"op": "mean", "field": "y", "as": "mu"}], "groupby": ["g"]}, {"fold": ["mu"], "as": ["k", "y"]}, {"calculate": "datum.g-0.196", "as": "x"}], "mark": {"type": "point", "shape": "square", "size": 18, "filled": true, "fill": "#a9c6c3", "stroke": "#444", "strokeWidth": 0.8, "opacity": 1}},
            {"data": {"name": "pts"}, "transform": [{"filter": "datum.p==='d'"}, {"calculate": "datum.g+0.011+0.121*datum.j", "as": "x"}], "mark": {"type": "point", "shape": "diamond", "size": 56, "filled": true, "color": "black", "opacity": 1}},
            {"data": {"name": "sig"}, "transform": [{"filter": "datum.p==='d'"}], "mark": {"type": "rule", "color": "#222", "strokeWidth": 1.3}, "encoding": {"x2": {"field": "x2"}}},
            {"data": {"name": "sig"}, "transform": [{"filter": "datum.p==='d'"}, {"fold": ["x", "x2"], "as": ["k", "x"]}], "mark": {"type": "point", "shape": "M0,0V2", "size": 22, "filled": false, "stroke": "#222", "strokeWidth": 1.3, "opacity": 1}},
            {"data": {"name": "sig"}, "transform": [{"filter": "datum.p==='d'"}, {"calculate": "(datum.x+datum.x2)/2", "as": "xm"}, {"fold": ["xm"], "as": ["k", "x"]}], "mark": {"type": "text", "font": "Liberation Serif", "fontSize": 20, "fill": "#333", "baseline": "alphabetic", "dy": 6}, "encoding": {"text": {"field": "lab"}}}
          ]
        },
        {
          "width": 366, "height": 293,
          "title": {"text": "g"},
          "encoding": {
            "x": {"field": "x", "type": "quantitative", "scale": {"domain": [0.5, 4.5], "nice": false, "zero": false}, "axis": {"title": "Group", "values": [1, 2, 3, 4], "labelExpr": "['GCK11','GCK12','GT11','GT12'][datum.value-1]", "tickSize": -6, "labelPadding": 12, "titleY": 32, "titleBaseline": "middle"}},
            "y": {"field": "y", "type": "quantitative", "scale": {"domain": [0.1, 0.5], "nice": false, "zero": false}, "axis": {"title": "Electrical conductivity（ms/cm）", "values": [0.1, 0.15, 0.2, 0.25, 0.3, 0.35, 0.4, 0.45, 0.5], "format": ".1f", "labelExpr": "abs(datum.value/0.1-round(datum.value/0.1))<0.001 ? datum.label : ''", "tickSize": {"condition": {"test": "abs(datum.value/0.1-round(datum.value/0.1))<0.001", "value": -6}, "value": -3.5}, "titleX": -39}}
          },
          "layer": [
            {"data": {"name": "curve"}, "transform": [{"filter": "datum.p==='g'"}, {"calculate": "datum.g+0.016+0.236*datum.d", "as": "x"}], "mark": {"type": "line", "color": "black", "strokeWidth": 1.1, "interpolate": "catmull-rom"}, "encoding": {"detail": {"field": "g", "type": "nominal"}, "order": {"field": "y", "type": "quantitative"}}},
            {"data": {"name": "pts"}, "transform": [{"filter": "datum.p==='g'"}, {"aggregate": [{"op": "min", "field": "y", "as": "lo"}, {"op": "max", "field": "y", "as": "hi"}], "groupby": ["g"]}, {"fold": ["lo", "hi"], "as": ["k", "y"]}, {"calculate": "datum.g-0.281", "as": "x"}, {"calculate": "datum.g-0.111", "as": "x2"}], "mark": {"type": "rule", "color": "black", "strokeWidth": 1.4}, "encoding": {"x2": {"field": "x2"}}},
            {"data": {"name": "pts"}, "transform": [{"filter": "datum.p==='g'"}, {"aggregate": [{"op": "median", "field": "y", "as": "md"}, {"op": "max", "field": "y", "as": "mx"}], "groupby": ["g"]}, {"fold": ["md", "mx"], "as": ["k", "y"]}, {"calculate": "datum.k==='md'?0.146:0", "as": "w"}, {"calculate": "datum.g-0.196-datum.w", "as": "x"}, {"calculate": "datum.g-0.196+datum.w", "as": "x2"}], "mark": {"type": "area", "orient": "horizontal", "fill": "#5f9c98", "stroke": "#1a1a1a", "strokeWidth": 1, "opacity": 1}, "encoding": {"x2": {"field": "x2"}, "detail": {"field": "g", "type": "nominal"}}},
            {"data": {"name": "pts"}, "transform": [{"filter": "datum.p==='g'"}, {"aggregate": [{"op": "min", "field": "y", "as": "mn"}, {"op": "median", "field": "y", "as": "md"}], "groupby": ["g"]}, {"fold": ["mn", "md"], "as": ["k", "y"]}, {"calculate": "datum.k==='md'?0.146:0", "as": "w"}, {"calculate": "datum.g-0.196-datum.w", "as": "x"}, {"calculate": "datum.g-0.196+datum.w", "as": "x2"}], "mark": {"type": "area", "orient": "horizontal", "fill": "#5f9c98", "stroke": "#1a1a1a", "strokeWidth": 1, "opacity": 1}, "encoding": {"x2": {"field": "x2"}, "detail": {"field": "g", "type": "nominal"}}},
            {"data": {"name": "pts"}, "transform": [{"filter": "datum.p==='g'"}, {"aggregate": [{"op": "median", "field": "y", "as": "med"}], "groupby": ["g"]}, {"fold": ["med"], "as": ["k", "y"]}, {"calculate": "datum.g-0.342", "as": "x"}, {"calculate": "datum.g-0.05", "as": "x2"}], "mark": {"type": "rule", "color": "#111", "strokeWidth": 1.4}, "encoding": {"x2": {"field": "x2"}}},
            {"data": {"name": "pts"}, "transform": [{"filter": "datum.p==='g'"}, {"aggregate": [{"op": "mean", "field": "y", "as": "mu"}], "groupby": ["g"]}, {"fold": ["mu"], "as": ["k", "y"]}, {"calculate": "datum.g-0.196", "as": "x"}], "mark": {"type": "point", "shape": "square", "size": 18, "filled": true, "fill": "#a9c6c3", "stroke": "#444", "strokeWidth": 0.8, "opacity": 1}},
            {"data": {"name": "pts"}, "transform": [{"filter": "datum.p==='g'"}, {"calculate": "datum.g+0.011+0.121*datum.j", "as": "x"}], "mark": {"type": "point", "shape": "diamond", "size": 56, "filled": true, "color": "black", "opacity": 1}},
            {"data": {"name": "sig"}, "transform": [{"filter": "datum.p==='g'"}], "mark": {"type": "rule", "color": "#222", "strokeWidth": 1.3}, "encoding": {"x2": {"field": "x2"}}},
            {"data": {"name": "sig"}, "transform": [{"filter": "datum.p==='g'"}, {"fold": ["x", "x2"], "as": ["k", "x"]}], "mark": {"type": "point", "shape": "M0,0V2", "size": 22, "filled": false, "stroke": "#222", "strokeWidth": 1.3, "opacity": 1}},
            {"data": {"name": "sig"}, "transform": [{"filter": "datum.p==='g'"}, {"calculate": "(datum.x+datum.x2)/2", "as": "xm"}, {"fold": ["xm"], "as": ["k", "x"]}], "mark": {"type": "text", "font": "Liberation Serif", "fontSize": 20, "fill": "#333", "baseline": "alphabetic", "dy": 6}, "encoding": {"text": {"field": "lab"}}}
          ]
        },
        {
          "width": 366, "height": 293,
          "title": {"text": "j"},
          "encoding": {
            "x": {"field": "x", "type": "quantitative", "scale": {"domain": [0.5, 4.5], "nice": false, "zero": false}, "axis": {"title": "Group", "values": [1, 2, 3, 4], "labelExpr": "['GCK11','GCK12','GT11','GT12'][datum.value-1]", "tickSize": -6, "labelPadding": 12, "titleY": 32, "titleBaseline": "middle"}},
            "y": {"field": "y", "type": "quantitative", "scale": {"domain": [750, 1050], "nice": false, "zero": false}, "axis": {"title": "Catalase (μmol/h/g)", "values": [750, 775, 800, 825, 850, 875, 900, 925, 950, 975, 1000, 1025, 1050], "format": "d", "labelExpr": "abs(datum.value/50-round(datum.value/50))<0.001 ? datum.label : ''", "tickSize": {"condition": {"test": "abs(datum.value/50-round(datum.value/50))<0.001", "value": -6}, "value": -3.5}, "titleX": -43}}
          },
          "layer": [
            {"data": {"name": "curve"}, "transform": [{"filter": "datum.p==='j'"}, {"calculate": "datum.g+0.016+0.236*datum.d", "as": "x"}], "mark": {"type": "line", "color": "black", "strokeWidth": 1.1, "interpolate": "catmull-rom"}, "encoding": {"detail": {"field": "g", "type": "nominal"}, "order": {"field": "y", "type": "quantitative"}}},
            {"data": {"name": "pts"}, "transform": [{"filter": "datum.p==='j'"}, {"aggregate": [{"op": "min", "field": "y", "as": "lo"}, {"op": "max", "field": "y", "as": "hi"}], "groupby": ["g"]}, {"fold": ["lo", "hi"], "as": ["k", "y"]}, {"calculate": "datum.g-0.281", "as": "x"}, {"calculate": "datum.g-0.111", "as": "x2"}], "mark": {"type": "rule", "color": "black", "strokeWidth": 1.4}, "encoding": {"x2": {"field": "x2"}}},
            {"data": {"name": "pts"}, "transform": [{"filter": "datum.p==='j'"}, {"aggregate": [{"op": "median", "field": "y", "as": "md"}, {"op": "max", "field": "y", "as": "mx"}], "groupby": ["g"]}, {"fold": ["md", "mx"], "as": ["k", "y"]}, {"calculate": "datum.k==='md'?0.146:0", "as": "w"}, {"calculate": "datum.g-0.196-datum.w", "as": "x"}, {"calculate": "datum.g-0.196+datum.w", "as": "x2"}], "mark": {"type": "area", "orient": "horizontal", "fill": "#5f9c98", "stroke": "#1a1a1a", "strokeWidth": 1, "opacity": 1}, "encoding": {"x2": {"field": "x2"}, "detail": {"field": "g", "type": "nominal"}}},
            {"data": {"name": "pts"}, "transform": [{"filter": "datum.p==='j'"}, {"aggregate": [{"op": "min", "field": "y", "as": "mn"}, {"op": "median", "field": "y", "as": "md"}], "groupby": ["g"]}, {"fold": ["mn", "md"], "as": ["k", "y"]}, {"calculate": "datum.k==='md'?0.146:0", "as": "w"}, {"calculate": "datum.g-0.196-datum.w", "as": "x"}, {"calculate": "datum.g-0.196+datum.w", "as": "x2"}], "mark": {"type": "area", "orient": "horizontal", "fill": "#5f9c98", "stroke": "#1a1a1a", "strokeWidth": 1, "opacity": 1}, "encoding": {"x2": {"field": "x2"}, "detail": {"field": "g", "type": "nominal"}}},
            {"data": {"name": "pts"}, "transform": [{"filter": "datum.p==='j'"}, {"aggregate": [{"op": "median", "field": "y", "as": "med"}], "groupby": ["g"]}, {"fold": ["med"], "as": ["k", "y"]}, {"calculate": "datum.g-0.342", "as": "x"}, {"calculate": "datum.g-0.05", "as": "x2"}], "mark": {"type": "rule", "color": "#111", "strokeWidth": 1.4}, "encoding": {"x2": {"field": "x2"}}},
            {"data": {"name": "pts"}, "transform": [{"filter": "datum.p==='j'"}, {"aggregate": [{"op": "mean", "field": "y", "as": "mu"}], "groupby": ["g"]}, {"fold": ["mu"], "as": ["k", "y"]}, {"calculate": "datum.g-0.196", "as": "x"}], "mark": {"type": "point", "shape": "square", "size": 18, "filled": true, "fill": "#a9c6c3", "stroke": "#444", "strokeWidth": 0.8, "opacity": 1}},
            {"data": {"name": "pts"}, "transform": [{"filter": "datum.p==='j'"}, {"calculate": "datum.g+0.011+0.121*datum.j", "as": "x"}], "mark": {"type": "point", "shape": "diamond", "size": 56, "filled": true, "color": "black", "opacity": 1}}
          ]
        }
      ]
    },
    {
      "spacing": 1,
      "hconcat": [
        {
          "bounds": "flush",
          "spacing": 50,
          "vconcat": [
            {
              "width": 364, "height": 293,
              "title": {"text": "b"},
              "encoding": {
                "x": {"field": "x", "type": "quantitative", "scale": {"domain": [0.5, 4.5], "nice": false, "zero": false}, "axis": {"title": "Group", "values": [1, 2, 3, 4], "labelExpr": "['GCK11','GCK12','GT11','GT12'][datum.value-1]", "tickSize": -6, "labelPadding": 12, "titleY": 32, "titleBaseline": "middle"}},
                "y": {"field": "y", "type": "quantitative", "scale": {"domain": [0, 600], "nice": false, "zero": false}, "axis": {"title": "Nitrate nitrogen（mg/Kg）", "values": [0, 50, 100, 150, 200, 250, 300, 350, 400, 450, 500, 550, 600], "format": "d", "labelExpr": "abs(datum.value/100-round(datum.value/100))<0.001 ? datum.label : ''", "tickSize": {"condition": {"test": "abs(datum.value/100-round(datum.value/100))<0.001", "value": -6}, "value": -3.5}, "titleX": -45}}
              },
              "layer": [
                {"data": {"name": "curve"}, "transform": [{"filter": "datum.p==='b'"}, {"calculate": "datum.g+0.016+0.236*datum.d", "as": "x"}], "mark": {"type": "line", "color": "black", "strokeWidth": 1.1, "interpolate": "catmull-rom"}, "encoding": {"detail": {"field": "g", "type": "nominal"}, "order": {"field": "y", "type": "quantitative"}}},
                {"data": {"name": "pts"}, "transform": [{"filter": "datum.p==='b'"}, {"aggregate": [{"op": "min", "field": "y", "as": "lo"}, {"op": "max", "field": "y", "as": "hi"}], "groupby": ["g"]}, {"fold": ["lo", "hi"], "as": ["k", "y"]}, {"calculate": "datum.g-0.281", "as": "x"}, {"calculate": "datum.g-0.111", "as": "x2"}], "mark": {"type": "rule", "color": "black", "strokeWidth": 1.4}, "encoding": {"x2": {"field": "x2"}}},
                {"data": {"name": "pts"}, "transform": [{"filter": "datum.p==='b'"}, {"aggregate": [{"op": "median", "field": "y", "as": "md"}, {"op": "max", "field": "y", "as": "mx"}], "groupby": ["g"]}, {"fold": ["md", "mx"], "as": ["k", "y"]}, {"calculate": "datum.k==='md'?0.146:0", "as": "w"}, {"calculate": "datum.g-0.196-datum.w", "as": "x"}, {"calculate": "datum.g-0.196+datum.w", "as": "x2"}], "mark": {"type": "area", "orient": "horizontal", "fill": "#5f9c98", "stroke": "#1a1a1a", "strokeWidth": 1, "opacity": 1}, "encoding": {"x2": {"field": "x2"}, "detail": {"field": "g", "type": "nominal"}}},
                {"data": {"name": "pts"}, "transform": [{"filter": "datum.p==='b'"}, {"aggregate": [{"op": "min", "field": "y", "as": "mn"}, {"op": "median", "field": "y", "as": "md"}], "groupby": ["g"]}, {"fold": ["mn", "md"], "as": ["k", "y"]}, {"calculate": "datum.k==='md'?0.146:0", "as": "w"}, {"calculate": "datum.g-0.196-datum.w", "as": "x"}, {"calculate": "datum.g-0.196+datum.w", "as": "x2"}], "mark": {"type": "area", "orient": "horizontal", "fill": "#5f9c98", "stroke": "#1a1a1a", "strokeWidth": 1, "opacity": 1}, "encoding": {"x2": {"field": "x2"}, "detail": {"field": "g", "type": "nominal"}}},
                {"data": {"name": "pts"}, "transform": [{"filter": "datum.p==='b'"}, {"aggregate": [{"op": "median", "field": "y", "as": "med"}], "groupby": ["g"]}, {"fold": ["med"], "as": ["k", "y"]}, {"calculate": "datum.g-0.342", "as": "x"}, {"calculate": "datum.g-0.05", "as": "x2"}], "mark": {"type": "rule", "color": "#111", "strokeWidth": 1.4}, "encoding": {"x2": {"field": "x2"}}},
                {"data": {"name": "pts"}, "transform": [{"filter": "datum.p==='b'"}, {"aggregate": [{"op": "mean", "field": "y", "as": "mu"}], "groupby": ["g"]}, {"fold": ["mu"], "as": ["k", "y"]}, {"calculate": "datum.g-0.196", "as": "x"}], "mark": {"type": "point", "shape": "square", "size": 18, "filled": true, "fill": "#a9c6c3", "stroke": "#444", "strokeWidth": 0.8, "opacity": 1}},
                {"data": {"name": "pts"}, "transform": [{"filter": "datum.p==='b'"}, {"calculate": "datum.g+0.011+0.121*datum.j", "as": "x"}], "mark": {"type": "point", "shape": "diamond", "size": 56, "filled": true, "color": "black", "opacity": 1}},
                {"data": {"name": "sig"}, "transform": [{"filter": "datum.p==='b'"}], "mark": {"type": "rule", "color": "#222", "strokeWidth": 1.3}, "encoding": {"x2": {"field": "x2"}}},
                {"data": {"name": "sig"}, "transform": [{"filter": "datum.p==='b'"}, {"fold": ["x", "x2"], "as": ["k", "x"]}], "mark": {"type": "point", "shape": "M0,0V2", "size": 22, "filled": false, "stroke": "#222", "strokeWidth": 1.3, "opacity": 1}},
                {"data": {"name": "sig"}, "transform": [{"filter": "datum.p==='b'"}, {"calculate": "(datum.x+datum.x2)/2", "as": "xm"}, {"fold": ["xm"], "as": ["k", "x"]}], "mark": {"type": "text", "font": "Liberation Serif", "fontSize": 20, "fill": "#333", "baseline": "alphabetic", "dy": 6}, "encoding": {"text": {"field": "lab"}}}
              ]
            },
            {
              "width": 364, "height": 293,
              "title": {"text": "e"},
              "encoding": {
                "x": {"field": "x", "type": "quantitative", "scale": {"domain": [0.5, 4.5], "nice": false, "zero": false}, "axis": {"title": "Group", "values": [1, 2, 3, 4], "labelExpr": "['GCK11','GCK12','GT11','GT12'][datum.value-1]", "tickSize": -6, "labelPadding": 12, "titleY": 32, "titleBaseline": "middle"}},
                "y": {"field": "y", "type": "quantitative", "scale": {"domain": [150, 400], "nice": false, "zero": false}, "axis": {"title": "Rapidly available potassiu（mg/Kg）", "values": [150, 175, 200, 225, 250, 275, 300, 325, 350, 375, 400], "format": "d", "labelExpr": "abs(datum.value/50-round(datum.value/50))<0.001 ? datum.label : ''", "tickSize": {"condition": {"test": "abs(datum.value/50-round(datum.value/50))<0.001", "value": -6}, "value": -3.5}, "titleX": -42}}
              },
              "layer": [
                {"data": {"name": "curve"}, "transform": [{"filter": "datum.p==='e'"}, {"calculate": "datum.g+0.016+0.236*datum.d", "as": "x"}], "mark": {"type": "line", "color": "black", "strokeWidth": 1.1, "interpolate": "catmull-rom"}, "encoding": {"detail": {"field": "g", "type": "nominal"}, "order": {"field": "y", "type": "quantitative"}}},
                {"data": {"name": "pts"}, "transform": [{"filter": "datum.p==='e'"}, {"aggregate": [{"op": "min", "field": "y", "as": "lo"}, {"op": "max", "field": "y", "as": "hi"}], "groupby": ["g"]}, {"fold": ["lo", "hi"], "as": ["k", "y"]}, {"calculate": "datum.g-0.281", "as": "x"}, {"calculate": "datum.g-0.111", "as": "x2"}], "mark": {"type": "rule", "color": "black", "strokeWidth": 1.4}, "encoding": {"x2": {"field": "x2"}}},
                {"data": {"name": "pts"}, "transform": [{"filter": "datum.p==='e'"}, {"aggregate": [{"op": "median", "field": "y", "as": "md"}, {"op": "max", "field": "y", "as": "mx"}], "groupby": ["g"]}, {"fold": ["md", "mx"], "as": ["k", "y"]}, {"calculate": "datum.k==='md'?0.146:0", "as": "w"}, {"calculate": "datum.g-0.196-datum.w", "as": "x"}, {"calculate": "datum.g-0.196+datum.w", "as": "x2"}], "mark": {"type": "area", "orient": "horizontal", "fill": "#5f9c98", "stroke": "#1a1a1a", "strokeWidth": 1, "opacity": 1}, "encoding": {"x2": {"field": "x2"}, "detail": {"field": "g", "type": "nominal"}}},
                {"data": {"name": "pts"}, "transform": [{"filter": "datum.p==='e'"}, {"aggregate": [{"op": "min", "field": "y", "as": "mn"}, {"op": "median", "field": "y", "as": "md"}], "groupby": ["g"]}, {"fold": ["mn", "md"], "as": ["k", "y"]}, {"calculate": "datum.k==='md'?0.146:0", "as": "w"}, {"calculate": "datum.g-0.196-datum.w", "as": "x"}, {"calculate": "datum.g-0.196+datum.w", "as": "x2"}], "mark": {"type": "area", "orient": "horizontal", "fill": "#5f9c98", "stroke": "#1a1a1a", "strokeWidth": 1, "opacity": 1}, "encoding": {"x2": {"field": "x2"}, "detail": {"field": "g", "type": "nominal"}}},
                {"data": {"name": "pts"}, "transform": [{"filter": "datum.p==='e'"}, {"aggregate": [{"op": "median", "field": "y", "as": "med"}], "groupby": ["g"]}, {"fold": ["med"], "as": ["k", "y"]}, {"calculate": "datum.g-0.342", "as": "x"}, {"calculate": "datum.g-0.05", "as": "x2"}], "mark": {"type": "rule", "color": "#111", "strokeWidth": 1.4}, "encoding": {"x2": {"field": "x2"}}},
                {"data": {"name": "pts"}, "transform": [{"filter": "datum.p==='e'"}, {"aggregate": [{"op": "mean", "field": "y", "as": "mu"}], "groupby": ["g"]}, {"fold": ["mu"], "as": ["k", "y"]}, {"calculate": "datum.g-0.196", "as": "x"}], "mark": {"type": "point", "shape": "square", "size": 18, "filled": true, "fill": "#a9c6c3", "stroke": "#444", "strokeWidth": 0.8, "opacity": 1}},
                {"data": {"name": "pts"}, "transform": [{"filter": "datum.p==='e'"}, {"calculate": "datum.g+0.011+0.121*datum.j", "as": "x"}], "mark": {"type": "point", "shape": "diamond", "size": 56, "filled": true, "color": "black", "opacity": 1}},
                {"data": {"name": "sig"}, "transform": [{"filter": "datum.p==='e'"}], "mark": {"type": "rule", "color": "#222", "strokeWidth": 1.3}, "encoding": {"x2": {"field": "x2"}}},
                {"data": {"name": "sig"}, "transform": [{"filter": "datum.p==='e'"}, {"fold": ["x", "x2"], "as": ["k", "x"]}], "mark": {"type": "point", "shape": "M0,0V2", "size": 22, "filled": false, "stroke": "#222", "strokeWidth": 1.3, "opacity": 1}},
                {"data": {"name": "sig"}, "transform": [{"filter": "datum.p==='e'"}, {"calculate": "(datum.x+datum.x2)/2", "as": "xm"}, {"fold": ["xm"], "as": ["k", "x"]}], "mark": {"type": "text", "font": "Liberation Serif", "fontSize": 20, "fill": "#333", "baseline": "alphabetic", "dy": 6}, "encoding": {"text": {"field": "lab"}}}
              ]
            },
            {
              "width": 364, "height": 293,
              "title": {"text": "h", "offset": 16},
              "encoding": {
                "x": {"field": "x", "type": "quantitative", "scale": {"domain": [0.5, 4.5], "nice": false, "zero": false}, "axis": {"title": "Group", "values": [1, 2, 3, 4], "labelExpr": "['GCK11','GCK12','GT11','GT12'][datum.value-1]", "tickSize": -6, "labelPadding": 12, "titleY": 32, "titleBaseline": "middle"}},
                "y": {"field": "y", "type": "quantitative", "scale": {"domain": [0.15, 0.55], "nice": false, "zero": false}, "axis": {"title": "Salinity（mg/g）", "values": [0.15, 0.2, 0.25, 0.3, 0.35, 0.4, 0.45, 0.5, 0.55], "format": ".1f", "labelExpr": "abs(datum.value/0.1-round(datum.value/0.1))<0.001 ? datum.label : ''", "tickSize": {"condition": {"test": "abs(datum.value/0.1-round(datum.value/0.1))<0.001", "value": -6}, "value": -3.5}, "titleX": -38}}
              },
              "layer": [
                {"data": {"name": "curve"}, "transform": [{"filter": "datum.p==='h'"}, {"calculate": "datum.g+0.016+0.236*datum.d", "as": "x"}], "mark": {"type": "line", "color": "black", "strokeWidth": 1.1, "interpolate": "catmull-rom"}, "encoding": {"detail": {"field": "g", "type": "nominal"}, "order": {"field": "y", "type": "quantitative"}}},
                {"data": {"name": "pts"}, "transform": [{"filter": "datum.p==='h'"}, {"aggregate": [{"op": "min", "field": "y", "as": "lo"}, {"op": "max", "field": "y", "as": "hi"}], "groupby": ["g"]}, {"fold": ["lo", "hi"], "as": ["k", "y"]}, {"calculate": "datum.g-0.281", "as": "x"}, {"calculate": "datum.g-0.111", "as": "x2"}], "mark": {"type": "rule", "color": "black", "strokeWidth": 1.4}, "encoding": {"x2": {"field": "x2"}}},
                {"data": {"name": "pts"}, "transform": [{"filter": "datum.p==='h'"}, {"aggregate": [{"op": "median", "field": "y", "as": "md"}, {"op": "max", "field": "y", "as": "mx"}], "groupby": ["g"]}, {"fold": ["md", "mx"], "as": ["k", "y"]}, {"calculate": "datum.k==='md'?0.146:0", "as": "w"}, {"calculate": "datum.g-0.196-datum.w", "as": "x"}, {"calculate": "datum.g-0.196+datum.w", "as": "x2"}], "mark": {"type": "area", "orient": "horizontal", "fill": "#5f9c98", "stroke": "#1a1a1a", "strokeWidth": 1, "opacity": 1}, "encoding": {"x2": {"field": "x2"}, "detail": {"field": "g", "type": "nominal"}}},
                {"data": {"name": "pts"}, "transform": [{"filter": "datum.p==='h'"}, {"aggregate": [{"op": "min", "field": "y", "as": "mn"}, {"op": "median", "field": "y", "as": "md"}], "groupby": ["g"]}, {"fold": ["mn", "md"], "as": ["k", "y"]}, {"calculate": "datum.k==='md'?0.146:0", "as": "w"}, {"calculate": "datum.g-0.196-datum.w", "as": "x"}, {"calculate": "datum.g-0.196+datum.w", "as": "x2"}], "mark": {"type": "area", "orient": "horizontal", "fill": "#5f9c98", "stroke": "#1a1a1a", "strokeWidth": 1, "opacity": 1}, "encoding": {"x2": {"field": "x2"}, "detail": {"field": "g", "type": "nominal"}}},
                {"data": {"name": "pts"}, "transform": [{"filter": "datum.p==='h'"}, {"aggregate": [{"op": "median", "field": "y", "as": "med"}], "groupby": ["g"]}, {"fold": ["med"], "as": ["k", "y"]}, {"calculate": "datum.g-0.342", "as": "x"}, {"calculate": "datum.g-0.05", "as": "x2"}], "mark": {"type": "rule", "color": "#111", "strokeWidth": 1.4}, "encoding": {"x2": {"field": "x2"}}},
                {"data": {"name": "pts"}, "transform": [{"filter": "datum.p==='h'"}, {"aggregate": [{"op": "mean", "field": "y", "as": "mu"}], "groupby": ["g"]}, {"fold": ["mu"], "as": ["k", "y"]}, {"calculate": "datum.g-0.196", "as": "x"}], "mark": {"type": "point", "shape": "square", "size": 18, "filled": true, "fill": "#a9c6c3", "stroke": "#444", "strokeWidth": 0.8, "opacity": 1}},
                {"data": {"name": "pts"}, "transform": [{"filter": "datum.p==='h'"}, {"calculate": "datum.g+0.011+0.121*datum.j", "as": "x"}], "mark": {"type": "point", "shape": "diamond", "size": 56, "filled": true, "color": "black", "opacity": 1}},
                {"data": {"name": "sig"}, "transform": [{"filter": "datum.p==='h'"}], "mark": {"type": "rule", "color": "#222", "strokeWidth": 1.3}, "encoding": {"x2": {"field": "x2"}}},
                {"data": {"name": "sig"}, "transform": [{"filter": "datum.p==='h'"}, {"fold": ["x", "x2"], "as": ["k", "x"]}], "mark": {"type": "point", "shape": "M0,0V2", "size": 22, "filled": false, "stroke": "#222", "strokeWidth": 1.3, "opacity": 1}},
                {"data": {"name": "sig"}, "transform": [{"filter": "datum.p==='h'"}, {"calculate": "(datum.x+datum.x2)/2", "as": "xm"}, {"fold": ["xm"], "as": ["k", "x"]}], "mark": {"type": "text", "font": "Liberation Serif", "fontSize": 20, "fill": "#333", "baseline": "alphabetic", "dy": 6}, "encoding": {"text": {"field": "lab"}}}
              ]
            },
            {
              "width": 364, "height": 293,
              "title": {"text": "k", "offset": 16},
              "encoding": {
                "x": {"field": "x", "type": "quantitative", "scale": {"domain": [0.5, 4.5], "nice": false, "zero": false}, "axis": {"title": "Group", "values": [1, 2, 3, 4], "labelExpr": "['GCK11','GCK12','GT11','GT12'][datum.value-1]", "tickSize": -6, "labelPadding": 12, "titleY": 32, "titleBaseline": "middle"}},
                "y": {"field": "y", "type": "quantitative", "scale": {"domain": [0, 2000], "nice": false, "zero": false}, "axis": {"title": "Alkaline phosphatase (nmol/h/g)", "values": [0, 150, 300, 450, 600, 750, 900, 1050, 1200, 1350, 1500, 1650, 1800, 1950], "format": "d", "labelExpr": "abs(datum.value/300-round(datum.value/300))<0.001 ? datum.label : ''", "tickSize": {"condition": {"test": "abs(datum.value/300-round(datum.value/300))<0.001", "value": -6}, "value": -3.5}, "titleX": -49}}
              },
              "layer": [
                {"data": {"name": "curve"}, "transform": [{"filter": "datum.p==='k'"}, {"calculate": "datum.g+0.016+0.236*datum.d", "as": "x"}], "mark": {"type": "line", "color": "black", "strokeWidth": 1.1, "interpolate": "catmull-rom"}, "encoding": {"detail": {"field": "g", "type": "nominal"}, "order": {"field": "y", "type": "quantitative"}}},
                {"data": {"name": "pts"}, "transform": [{"filter": "datum.p==='k'"}, {"aggregate": [{"op": "min", "field": "y", "as": "lo"}, {"op": "max", "field": "y", "as": "hi"}], "groupby": ["g"]}, {"fold": ["lo", "hi"], "as": ["k", "y"]}, {"calculate": "datum.g-0.281", "as": "x"}, {"calculate": "datum.g-0.111", "as": "x2"}], "mark": {"type": "rule", "color": "black", "strokeWidth": 1.4}, "encoding": {"x2": {"field": "x2"}}},
                {"data": {"name": "pts"}, "transform": [{"filter": "datum.p==='k'"}, {"aggregate": [{"op": "median", "field": "y", "as": "md"}, {"op": "max", "field": "y", "as": "mx"}], "groupby": ["g"]}, {"fold": ["md", "mx"], "as": ["k", "y"]}, {"calculate": "datum.k==='md'?0.146:0", "as": "w"}, {"calculate": "datum.g-0.196-datum.w", "as": "x"}, {"calculate": "datum.g-0.196+datum.w", "as": "x2"}], "mark": {"type": "area", "orient": "horizontal", "fill": "#5f9c98", "stroke": "#1a1a1a", "strokeWidth": 1, "opacity": 1}, "encoding": {"x2": {"field": "x2"}, "detail": {"field": "g", "type": "nominal"}}},
                {"data": {"name": "pts"}, "transform": [{"filter": "datum.p==='k'"}, {"aggregate": [{"op": "min", "field": "y", "as": "mn"}, {"op": "median", "field": "y", "as": "md"}], "groupby": ["g"]}, {"fold": ["mn", "md"], "as": ["k", "y"]}, {"calculate": "datum.k==='md'?0.146:0", "as": "w"}, {"calculate": "datum.g-0.196-datum.w", "as": "x"}, {"calculate": "datum.g-0.196+datum.w", "as": "x2"}], "mark": {"type": "area", "orient": "horizontal", "fill": "#5f9c98", "stroke": "#1a1a1a", "strokeWidth": 1, "opacity": 1}, "encoding": {"x2": {"field": "x2"}, "detail": {"field": "g", "type": "nominal"}}},
                {"data": {"name": "pts"}, "transform": [{"filter": "datum.p==='k'"}, {"aggregate": [{"op": "median", "field": "y", "as": "med"}], "groupby": ["g"]}, {"fold": ["med"], "as": ["k", "y"]}, {"calculate": "datum.g-0.342", "as": "x"}, {"calculate": "datum.g-0.05", "as": "x2"}], "mark": {"type": "rule", "color": "#111", "strokeWidth": 1.4}, "encoding": {"x2": {"field": "x2"}}},
                {"data": {"name": "pts"}, "transform": [{"filter": "datum.p==='k'"}, {"aggregate": [{"op": "mean", "field": "y", "as": "mu"}], "groupby": ["g"]}, {"fold": ["mu"], "as": ["k", "y"]}, {"calculate": "datum.g-0.196", "as": "x"}], "mark": {"type": "point", "shape": "square", "size": 18, "filled": true, "fill": "#a9c6c3", "stroke": "#444", "strokeWidth": 0.8, "opacity": 1}},
                {"data": {"name": "pts"}, "transform": [{"filter": "datum.p==='k'"}, {"calculate": "datum.g+0.011+0.121*datum.j", "as": "x"}], "mark": {"type": "point", "shape": "diamond", "size": 56, "filled": true, "color": "black", "opacity": 1}},
                {"data": {"name": "sig"}, "transform": [{"filter": "datum.p==='k'"}], "mark": {"type": "rule", "color": "#222", "strokeWidth": 1.3}, "encoding": {"x2": {"field": "x2"}}},
                {"data": {"name": "sig"}, "transform": [{"filter": "datum.p==='k'"}, {"fold": ["x", "x2"], "as": ["k", "x"]}], "mark": {"type": "point", "shape": "M0,0V2", "size": 22, "filled": false, "stroke": "#222", "strokeWidth": 1.3, "opacity": 1}},
                {"data": {"name": "sig"}, "transform": [{"filter": "datum.p==='k'"}, {"calculate": "(datum.x+datum.x2)/2", "as": "xm"}, {"fold": ["xm"], "as": ["k", "x"]}], "mark": {"type": "text", "font": "Liberation Serif", "fontSize": 20, "fill": "#333", "baseline": "alphabetic", "dy": 6}, "encoding": {"text": {"field": "lab"}}}
              ]
            }
          ]
        },
        {
          "bounds": "flush",
          "spacing": 50,
          "vconcat": [
            {
              "width": 362, "height": 293,
              "title": {"text": "c"},
              "encoding": {
                "x": {"field": "x", "type": "quantitative", "scale": {"domain": [0.5, 4.5], "nice": false, "zero": false}, "axis": {"title": "Group", "values": [1, 2, 3, 4], "labelExpr": "['GCK11','GCK12','GT11','GT12'][datum.value-1]", "tickSize": -6, "labelPadding": 12, "titleY": 32, "titleBaseline": "middle"}},
                "y": {"field": "y", "type": "quantitative", "scale": {"domain": [20, 50], "nice": false, "zero": false}, "axis": {"title": "Ammonium nitrogen（mg/Kg）", "values": [20, 22.5, 25, 27.5, 30, 32.5, 35, 37.5, 40, 42.5, 45, 47.5, 50], "format": "d", "labelExpr": "abs(datum.value/5-round(datum.value/5))<0.001 ? datum.label : ''", "tickSize": {"condition": {"test": "abs(datum.value/5-round(datum.value/5))<0.001", "value": -6}, "value": -3.5}, "titleX": -30}}
              },
              "layer": [
                {"data": {"name": "curve"}, "transform": [{"filter": "datum.p==='c'"}, {"calculate": "datum.g+0.016+0.236*datum.d", "as": "x"}], "mark": {"type": "line", "color": "black", "strokeWidth": 1.1, "interpolate": "catmull-rom"}, "encoding": {"detail": {"field": "g", "type": "nominal"}, "order": {"field": "y", "type": "quantitative"}}},
                {"data": {"name": "pts"}, "transform": [{"filter": "datum.p==='c'"}, {"aggregate": [{"op": "min", "field": "y", "as": "lo"}, {"op": "max", "field": "y", "as": "hi"}], "groupby": ["g"]}, {"fold": ["lo", "hi"], "as": ["k", "y"]}, {"calculate": "datum.g-0.281", "as": "x"}, {"calculate": "datum.g-0.111", "as": "x2"}], "mark": {"type": "rule", "color": "black", "strokeWidth": 1.4}, "encoding": {"x2": {"field": "x2"}}},
                {"data": {"name": "pts"}, "transform": [{"filter": "datum.p==='c'"}, {"aggregate": [{"op": "median", "field": "y", "as": "md"}, {"op": "max", "field": "y", "as": "mx"}], "groupby": ["g"]}, {"fold": ["md", "mx"], "as": ["k", "y"]}, {"calculate": "datum.k==='md'?0.146:0", "as": "w"}, {"calculate": "datum.g-0.196-datum.w", "as": "x"}, {"calculate": "datum.g-0.196+datum.w", "as": "x2"}], "mark": {"type": "area", "orient": "horizontal", "fill": "#5f9c98", "stroke": "#1a1a1a", "strokeWidth": 1, "opacity": 1}, "encoding": {"x2": {"field": "x2"}, "detail": {"field": "g", "type": "nominal"}}},
                {"data": {"name": "pts"}, "transform": [{"filter": "datum.p==='c'"}, {"aggregate": [{"op": "min", "field": "y", "as": "mn"}, {"op": "median", "field": "y", "as": "md"}], "groupby": ["g"]}, {"fold": ["mn", "md"], "as": ["k", "y"]}, {"calculate": "datum.k==='md'?0.146:0", "as": "w"}, {"calculate": "datum.g-0.196-datum.w", "as": "x"}, {"calculate": "datum.g-0.196+datum.w", "as": "x2"}], "mark": {"type": "area", "orient": "horizontal", "fill": "#5f9c98", "stroke": "#1a1a1a", "strokeWidth": 1, "opacity": 1}, "encoding": {"x2": {"field": "x2"}, "detail": {"field": "g", "type": "nominal"}}},
                {"data": {"name": "pts"}, "transform": [{"filter": "datum.p==='c'"}, {"aggregate": [{"op": "median", "field": "y", "as": "med"}], "groupby": ["g"]}, {"fold": ["med"], "as": ["k", "y"]}, {"calculate": "datum.g-0.342", "as": "x"}, {"calculate": "datum.g-0.05", "as": "x2"}], "mark": {"type": "rule", "color": "#111", "strokeWidth": 1.4}, "encoding": {"x2": {"field": "x2"}}},
                {"data": {"name": "pts"}, "transform": [{"filter": "datum.p==='c'"}, {"aggregate": [{"op": "mean", "field": "y", "as": "mu"}], "groupby": ["g"]}, {"fold": ["mu"], "as": ["k", "y"]}, {"calculate": "datum.g-0.196", "as": "x"}], "mark": {"type": "point", "shape": "square", "size": 18, "filled": true, "fill": "#a9c6c3", "stroke": "#444", "strokeWidth": 0.8, "opacity": 1}},
                {"data": {"name": "pts"}, "transform": [{"filter": "datum.p==='c'"}, {"calculate": "datum.g+0.011+0.121*datum.j", "as": "x"}], "mark": {"type": "point", "shape": "diamond", "size": 56, "filled": true, "color": "black", "opacity": 1}}
              ]
            },
            {
              "width": 362, "height": 293,
              "title": {"text": "f"},
              "encoding": {
                "x": {"field": "x", "type": "quantitative", "scale": {"domain": [0.5, 4.5], "nice": false, "zero": false}, "axis": {"title": "Group", "values": [1, 2, 3, 4], "labelExpr": "['GCK11','GCK12','GT11','GT12'][datum.value-1]", "tickSize": -6, "labelPadding": 12, "titleY": 32, "titleBaseline": "middle"}},
                "y": {"field": "y", "type": "quantitative", "scale": {"domain": [6, 10], "nice": false, "zero": false}, "axis": {"title": "pH", "values": [6, 6.5, 7, 7.5, 8, 8.5, 9, 9.5, 10], "format": "d", "labelExpr": "abs(datum.value/1-round(datum.value/1))<0.001 ? datum.label : ''", "tickSize": {"condition": {"test": "abs(datum.value/1-round(datum.value/1))<0.001", "value": -6}, "value": -3.5}, "titleX": -27}}
              },
              "layer": [
                {"data": {"name": "curve"}, "transform": [{"filter": "datum.p==='f'"}, {"calculate": "datum.g+0.016+0.236*datum.d", "as": "x"}], "mark": {"type": "line", "color": "black", "strokeWidth": 1.1, "interpolate": "catmull-rom"}, "encoding": {"detail": {"field": "g", "type": "nominal"}, "order": {"field": "y", "type": "quantitative"}}},
                {"data": {"name": "pts"}, "transform": [{"filter": "datum.p==='f'"}, {"aggregate": [{"op": "min", "field": "y", "as": "lo"}, {"op": "max", "field": "y", "as": "hi"}], "groupby": ["g"]}, {"fold": ["lo", "hi"], "as": ["k", "y"]}, {"calculate": "datum.g-0.281", "as": "x"}, {"calculate": "datum.g-0.111", "as": "x2"}], "mark": {"type": "rule", "color": "black", "strokeWidth": 1.4}, "encoding": {"x2": {"field": "x2"}}},
                {"data": {"name": "pts"}, "transform": [{"filter": "datum.p==='f'"}, {"aggregate": [{"op": "median", "field": "y", "as": "md"}, {"op": "max", "field": "y", "as": "mx"}], "groupby": ["g"]}, {"fold": ["md", "mx"], "as": ["k", "y"]}, {"calculate": "datum.k==='md'?0.146:0", "as": "w"}, {"calculate": "datum.g-0.196-datum.w", "as": "x"}, {"calculate": "datum.g-0.196+datum.w", "as": "x2"}], "mark": {"type": "area", "orient": "horizontal", "fill": "#5f9c98", "stroke": "#1a1a1a", "strokeWidth": 1, "opacity": 1}, "encoding": {"x2": {"field": "x2"}, "detail": {"field": "g", "type": "nominal"}}},
                {"data": {"name": "pts"}, "transform": [{"filter": "datum.p==='f'"}, {"aggregate": [{"op": "min", "field": "y", "as": "mn"}, {"op": "median", "field": "y", "as": "md"}], "groupby": ["g"]}, {"fold": ["mn", "md"], "as": ["k", "y"]}, {"calculate": "datum.k==='md'?0.146:0", "as": "w"}, {"calculate": "datum.g-0.196-datum.w", "as": "x"}, {"calculate": "datum.g-0.196+datum.w", "as": "x2"}], "mark": {"type": "area", "orient": "horizontal", "fill": "#5f9c98", "stroke": "#1a1a1a", "strokeWidth": 1, "opacity": 1}, "encoding": {"x2": {"field": "x2"}, "detail": {"field": "g", "type": "nominal"}}},
                {"data": {"name": "pts"}, "transform": [{"filter": "datum.p==='f'"}, {"aggregate": [{"op": "median", "field": "y", "as": "med"}], "groupby": ["g"]}, {"fold": ["med"], "as": ["k", "y"]}, {"calculate": "datum.g-0.342", "as": "x"}, {"calculate": "datum.g-0.05", "as": "x2"}], "mark": {"type": "rule", "color": "#111", "strokeWidth": 1.4}, "encoding": {"x2": {"field": "x2"}}},
                {"data": {"name": "pts"}, "transform": [{"filter": "datum.p==='f'"}, {"aggregate": [{"op": "mean", "field": "y", "as": "mu"}], "groupby": ["g"]}, {"fold": ["mu"], "as": ["k", "y"]}, {"calculate": "datum.g-0.196", "as": "x"}], "mark": {"type": "point", "shape": "square", "size": 18, "filled": true, "fill": "#a9c6c3", "stroke": "#444", "strokeWidth": 0.8, "opacity": 1}},
                {"data": {"name": "pts"}, "transform": [{"filter": "datum.p==='f'"}, {"calculate": "datum.g+0.011+0.121*datum.j", "as": "x"}], "mark": {"type": "point", "shape": "diamond", "size": 56, "filled": true, "color": "black", "opacity": 1}}
              ]
            },
            {
              "width": 362, "height": 293,
              "title": {"text": "i", "offset": 16},
              "encoding": {
                "x": {"field": "x", "type": "quantitative", "scale": {"domain": [0.5, 4.5], "nice": false, "zero": false}, "axis": {"title": "Group", "values": [1, 2, 3, 4], "labelExpr": "['GCK11','GCK12','GT11','GT12'][datum.value-1]", "tickSize": -6, "labelPadding": 12, "titleY": 32, "titleBaseline": "middle"}},
                "y": {"field": "y", "type": "quantitative", "scale": {"domain": [200, 2000], "nice": false, "zero": false}, "axis": {"title": "Polyphenol oxidase (nmol/h/g)", "values": [300, 450, 600, 750, 900, 1050, 1200, 1350, 1500, 1650, 1800, 1950], "format": "d", "labelExpr": "abs(datum.value/300-round(datum.value/300))<0.001 ? datum.label : ''", "tickSize": {"condition": {"test": "abs(datum.value/300-round(datum.value/300))<0.001", "value": -6}, "value": -3.5}, "titleX": -48}}
              },
              "layer": [
                {"data": {"name": "curve"}, "transform": [{"filter": "datum.p==='i'"}, {"calculate": "datum.g+0.016+0.236*datum.d", "as": "x"}], "mark": {"type": "line", "color": "black", "strokeWidth": 1.1, "interpolate": "catmull-rom"}, "encoding": {"detail": {"field": "g", "type": "nominal"}, "order": {"field": "y", "type": "quantitative"}}},
                {"data": {"name": "pts"}, "transform": [{"filter": "datum.p==='i'"}, {"aggregate": [{"op": "min", "field": "y", "as": "lo"}, {"op": "max", "field": "y", "as": "hi"}], "groupby": ["g"]}, {"fold": ["lo", "hi"], "as": ["k", "y"]}, {"calculate": "datum.g-0.281", "as": "x"}, {"calculate": "datum.g-0.111", "as": "x2"}], "mark": {"type": "rule", "color": "black", "strokeWidth": 1.4}, "encoding": {"x2": {"field": "x2"}}},
                {"data": {"name": "pts"}, "transform": [{"filter": "datum.p==='i'"}, {"aggregate": [{"op": "median", "field": "y", "as": "md"}, {"op": "max", "field": "y", "as": "mx"}], "groupby": ["g"]}, {"fold": ["md", "mx"], "as": ["k", "y"]}, {"calculate": "datum.k==='md'?0.146:0", "as": "w"}, {"calculate": "datum.g-0.196-datum.w", "as": "x"}, {"calculate": "datum.g-0.196+datum.w", "as": "x2"}], "mark": {"type": "area", "orient": "horizontal", "fill": "#5f9c98", "stroke": "#1a1a1a", "strokeWidth": 1, "opacity": 1}, "encoding": {"x2": {"field": "x2"}, "detail": {"field": "g", "type": "nominal"}}},
                {"data": {"name": "pts"}, "transform": [{"filter": "datum.p==='i'"}, {"aggregate": [{"op": "min", "field": "y", "as": "mn"}, {"op": "median", "field": "y", "as": "md"}], "groupby": ["g"]}, {"fold": ["mn", "md"], "as": ["k", "y"]}, {"calculate": "datum.k==='md'?0.146:0", "as": "w"}, {"calculate": "datum.g-0.196-datum.w", "as": "x"}, {"calculate": "datum.g-0.196+datum.w", "as": "x2"}], "mark": {"type": "area", "orient": "horizontal", "fill": "#5f9c98", "stroke": "#1a1a1a", "strokeWidth": 1, "opacity": 1}, "encoding": {"x2": {"field": "x2"}, "detail": {"field": "g", "type": "nominal"}}},
                {"data": {"name": "pts"}, "transform": [{"filter": "datum.p==='i'"}, {"aggregate": [{"op": "median", "field": "y", "as": "med"}], "groupby": ["g"]}, {"fold": ["med"], "as": ["k", "y"]}, {"calculate": "datum.g-0.342", "as": "x"}, {"calculate": "datum.g-0.05", "as": "x2"}], "mark": {"type": "rule", "color": "#111", "strokeWidth": 1.4}, "encoding": {"x2": {"field": "x2"}}},
                {"data": {"name": "pts"}, "transform": [{"filter": "datum.p==='i'"}, {"aggregate": [{"op": "mean", "field": "y", "as": "mu"}], "groupby": ["g"]}, {"fold": ["mu"], "as": ["k", "y"]}, {"calculate": "datum.g-0.196", "as": "x"}], "mark": {"type": "point", "shape": "square", "size": 18, "filled": true, "fill": "#a9c6c3", "stroke": "#444", "strokeWidth": 0.8, "opacity": 1}},
                {"data": {"name": "pts"}, "transform": [{"filter": "datum.p==='i'"}, {"calculate": "datum.g+0.011+0.121*datum.j", "as": "x"}], "mark": {"type": "point", "shape": "diamond", "size": 56, "filled": true, "color": "black", "opacity": 1}},
                {"data": {"name": "sig"}, "transform": [{"filter": "datum.p==='i'"}], "mark": {"type": "rule", "color": "#222", "strokeWidth": 1.3}, "encoding": {"x2": {"field": "x2"}}},
                {"data": {"name": "sig"}, "transform": [{"filter": "datum.p==='i'"}, {"fold": ["x", "x2"], "as": ["k", "x"]}], "mark": {"type": "point", "shape": "M0,0V2", "size": 22, "filled": false, "stroke": "#222", "strokeWidth": 1.3, "opacity": 1}},
                {"data": {"name": "sig"}, "transform": [{"filter": "datum.p==='i'"}, {"calculate": "(datum.x+datum.x2)/2", "as": "xm"}, {"fold": ["xm"], "as": ["k", "x"]}], "mark": {"type": "text", "font": "Liberation Serif", "fontSize": 20, "fill": "#333", "baseline": "alphabetic", "dy": 6}, "encoding": {"text": {"field": "lab"}}}
              ]
            },
            {
              "width": 362, "height": 293,
              "title": {"text": "l"},
              "encoding": {
                "x": {"field": "x", "type": "quantitative", "scale": {"domain": [0.5, 4.5], "nice": false, "zero": false}, "axis": {"title": "Group", "values": [1, 2, 3, 4], "labelExpr": "['GCK11','GCK12','GT11','GT12'][datum.value-1]", "tickSize": -6, "labelPadding": 12, "titleY": 32, "titleBaseline": "middle"}},
                "y": {"field": "y", "type": "quantitative", "scale": {"domain": [0, 18], "nice": false, "zero": false}, "axis": {"title": "Sucrase (mg/d/g)", "values": [0, 1.5, 3, 4.5, 6, 7.5, 9, 10.5, 12, 13.5, 15, 16.5, 18], "format": "d", "labelExpr": "abs(datum.value/3-round(datum.value/3))<0.001 ? datum.label : ''", "tickSize": {"condition": {"test": "abs(datum.value/3-round(datum.value/3))<0.001", "value": -6}, "value": -3.5}, "titleX": -32}}
              },
              "layer": [
                {"data": {"name": "curve"}, "transform": [{"filter": "datum.p==='l'"}, {"calculate": "datum.g+0.016+0.236*datum.d", "as": "x"}], "mark": {"type": "line", "color": "black", "strokeWidth": 1.1, "interpolate": "catmull-rom"}, "encoding": {"detail": {"field": "g", "type": "nominal"}, "order": {"field": "y", "type": "quantitative"}}},
                {"data": {"name": "pts"}, "transform": [{"filter": "datum.p==='l'"}, {"aggregate": [{"op": "min", "field": "y", "as": "lo"}, {"op": "max", "field": "y", "as": "hi"}], "groupby": ["g"]}, {"fold": ["lo", "hi"], "as": ["k", "y"]}, {"calculate": "datum.g-0.281", "as": "x"}, {"calculate": "datum.g-0.111", "as": "x2"}], "mark": {"type": "rule", "color": "black", "strokeWidth": 1.4}, "encoding": {"x2": {"field": "x2"}}},
                {"data": {"name": "pts"}, "transform": [{"filter": "datum.p==='l'"}, {"aggregate": [{"op": "median", "field": "y", "as": "md"}, {"op": "max", "field": "y", "as": "mx"}], "groupby": ["g"]}, {"fold": ["md", "mx"], "as": ["k", "y"]}, {"calculate": "datum.k==='md'?0.146:0", "as": "w"}, {"calculate": "datum.g-0.196-datum.w", "as": "x"}, {"calculate": "datum.g-0.196+datum.w", "as": "x2"}], "mark": {"type": "area", "orient": "horizontal", "fill": "#5f9c98", "stroke": "#1a1a1a", "strokeWidth": 1, "opacity": 1}, "encoding": {"x2": {"field": "x2"}, "detail": {"field": "g", "type": "nominal"}}},
                {"data": {"name": "pts"}, "transform": [{"filter": "datum.p==='l'"}, {"aggregate": [{"op": "min", "field": "y", "as": "mn"}, {"op": "median", "field": "y", "as": "md"}], "groupby": ["g"]}, {"fold": ["mn", "md"], "as": ["k", "y"]}, {"calculate": "datum.k==='md'?0.146:0", "as": "w"}, {"calculate": "datum.g-0.196-datum.w", "as": "x"}, {"calculate": "datum.g-0.196+datum.w", "as": "x2"}], "mark": {"type": "area", "orient": "horizontal", "fill": "#5f9c98", "stroke": "#1a1a1a", "strokeWidth": 1, "opacity": 1}, "encoding": {"x2": {"field": "x2"}, "detail": {"field": "g", "type": "nominal"}}},
                {"data": {"name": "pts"}, "transform": [{"filter": "datum.p==='l'"}, {"aggregate": [{"op": "median", "field": "y", "as": "med"}], "groupby": ["g"]}, {"fold": ["med"], "as": ["k", "y"]}, {"calculate": "datum.g-0.342", "as": "x"}, {"calculate": "datum.g-0.05", "as": "x2"}], "mark": {"type": "rule", "color": "#111", "strokeWidth": 1.4}, "encoding": {"x2": {"field": "x2"}}},
                {"data": {"name": "pts"}, "transform": [{"filter": "datum.p==='l'"}, {"aggregate": [{"op": "mean", "field": "y", "as": "mu"}], "groupby": ["g"]}, {"fold": ["mu"], "as": ["k", "y"]}, {"calculate": "datum.g-0.196", "as": "x"}], "mark": {"type": "point", "shape": "square", "size": 18, "filled": true, "fill": "#a9c6c3", "stroke": "#444", "strokeWidth": 0.8, "opacity": 1}},
                {"data": {"name": "pts"}, "transform": [{"filter": "datum.p==='l'"}, {"calculate": "datum.g+0.011+0.121*datum.j", "as": "x"}], "mark": {"type": "point", "shape": "diamond", "size": 56, "filled": true, "color": "black", "opacity": 1}},
                {"data": {"name": "sig"}, "transform": [{"filter": "datum.p==='l'"}], "mark": {"type": "rule", "color": "#222", "strokeWidth": 1.3}, "encoding": {"x2": {"field": "x2"}}},
                {"data": {"name": "sig"}, "transform": [{"filter": "datum.p==='l'"}, {"fold": ["x", "x2"], "as": ["k", "x"]}], "mark": {"type": "point", "shape": "M0,0V2", "size": 22, "filled": false, "stroke": "#222", "strokeWidth": 1.3, "opacity": 1}},
                {"data": {"name": "sig"}, "transform": [{"filter": "datum.p==='l'"}, {"calculate": "(datum.x+datum.x2)/2", "as": "xm"}, {"fold": ["xm"], "as": ["k", "x"]}], "mark": {"type": "text", "font": "Liberation Serif", "fontSize": 20, "fill": "#333", "baseline": "alphabetic", "dy": 6}, "encoding": {"text": {"field": "lab"}}}
              ]
            }
          ]
        }
      ]
    }
  ]
}
